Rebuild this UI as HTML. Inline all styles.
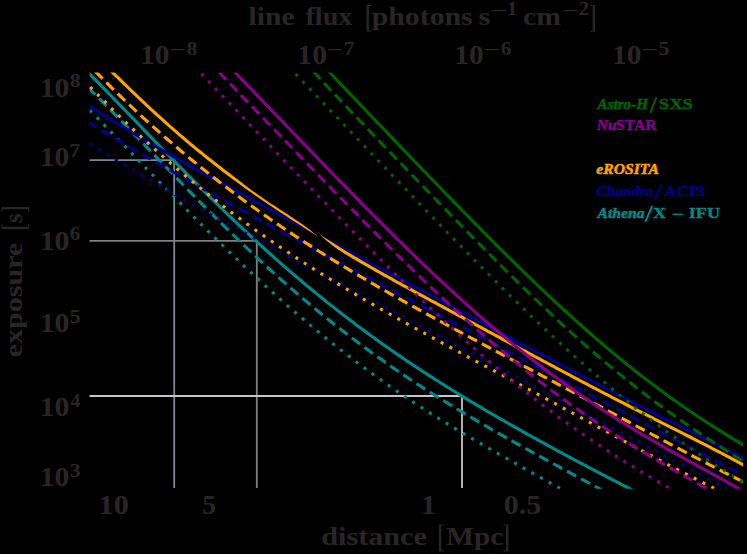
<!DOCTYPE html>
<html><head><meta charset="utf-8"><title>exposure vs distance</title>
<style>
html,body{margin:0;padding:0;background:#000;}
svg{display:block;font-family:"Liberation Serif",serif;font-weight:bold;}
.t{fill:#292526;}
</style></head><body>
<svg width="747" height="554" viewBox="0 0 747 554">
<rect width="747" height="554" fill="#000"/>
<defs><clipPath id="c"><rect x="89.5" y="72.6" width="653.6" height="416.1"/></clipPath></defs>
<g fill="none" stroke-width="1.8">
<path d="M89.5 160.2H174.2V488" stroke="#778899"/>
<path d="M89.5 240.8H256.8V488" stroke="#808080"/>
<path d="M89.5 396H462V488" stroke="#c6c6c6"/>
</g>
<g clip-path="url(#c)" fill="none" stroke-width="3.1">
<path d="M75.7 60.0 L77.7 62.0 L79.7 64.0 L81.7 66.0 L83.7 68.0 L85.7 70.1 L87.7 72.1 L89.7 74.1 L91.7 76.1 L93.7 78.1 L95.7 80.2 L97.7 82.2 L99.7 84.2 L101.7 86.3 L103.7 88.3 L105.7 90.3 L107.7 92.4 L109.7 94.5 L111.7 96.5 L113.7 98.6 L115.7 100.6 L117.7 102.7 L119.7 104.8 L121.7 106.8 L123.7 108.9 L125.7 111.0 L127.7 113.0 L129.7 115.1 L131.7 117.2 L133.7 119.2 L135.7 121.3 L137.7 123.4 L139.7 125.5 L141.7 127.5 L143.7 129.6 L145.7 131.7 L147.7 133.8 L149.7 135.8 L151.7 137.9 L153.7 140.0 L155.7 142.0 L157.7 144.1 L159.7 146.2 L161.7 148.2 L163.7 150.3 L165.7 152.3 L167.7 154.4 L169.7 156.5 L171.7 158.5 L173.7 160.6 L175.7 162.6 L177.7 164.6 L179.7 166.7 L181.7 168.7 L183.7 170.7 L185.7 172.8 L187.7 174.8 L189.7 176.8 L191.7 178.8 L193.7 180.8 L195.7 182.9 L197.7 184.9 L199.7 186.9 L201.7 188.8 L203.7 190.8 L205.7 192.8 L207.7 194.8 L209.7 196.8 L211.7 198.8 L213.7 200.7 L215.7 202.7 L217.7 204.6 L219.7 206.6 L221.7 208.5 L223.7 210.5 L225.7 212.4 L227.7 214.3 L229.7 216.3 L231.7 218.2 L233.7 220.1 L235.7 222.0 L237.7 223.9 L239.7 225.8 L241.7 227.7 L243.7 229.6 L245.7 231.4 L247.7 233.3 L249.7 235.2 L251.7 237.0 L253.7 238.9 L255.7 240.7 L257.7 242.6 L259.7 244.4 L261.7 246.2 L263.7 248.0 L265.7 249.8 L267.7 251.7 L269.7 253.5 L271.7 255.2 L273.7 257.0 L275.7 258.8 L277.7 260.6 L279.7 262.3 L281.7 264.1 L283.7 265.9 L285.7 267.6 L287.7 269.3 L289.7 271.1 L291.7 272.8 L293.7 274.5 L295.7 276.2 L297.7 277.9 L299.7 279.6 L301.7 281.3 L303.7 283.0 L305.7 284.7 L307.7 286.3 L309.7 288.0 L311.7 289.7 L313.7 291.3 L315.7 292.9 L317.7 294.6 L319.7 296.2 L321.7 297.8 L323.7 299.4 L325.7 301.1 L327.7 302.7 L329.7 304.2 L331.7 305.8 L333.7 307.4 L335.7 309.0 L337.7 310.6 L339.7 312.1 L341.7 313.7 L343.7 315.2 L345.7 316.8 L347.7 318.3 L349.7 319.8 L351.7 321.3 L353.7 322.8 L355.7 324.4 L357.7 325.9 L359.7 327.3 L361.7 328.8 L363.7 330.3 L365.7 331.8 L367.7 333.3 L369.7 334.7 L371.7 336.2 L373.7 337.6 L375.7 339.1 L377.7 340.5 L379.7 341.9 L381.7 343.4 L383.7 344.8 L385.7 346.2 L387.7 347.6 L389.7 349.0 L391.7 350.4 L393.7 351.8 L395.7 353.2 L397.7 354.6 L399.7 355.9 L401.7 357.3 L403.7 358.7 L405.7 360.0 L407.7 361.4 L409.7 362.7 L411.7 364.0 L413.7 365.4 L415.7 366.7 L417.7 368.0 L419.7 369.3 L421.7 370.7 L423.7 372.0 L425.7 373.3 L427.7 374.6 L429.7 375.9 L431.7 377.2 L433.7 378.4 L435.7 379.7 L437.7 381.0 L439.7 382.3 L441.7 383.5 L443.7 384.8 L445.7 386.0 L447.7 387.3 L449.7 388.5 L451.7 389.8 L453.7 391.0 L455.7 392.3 L457.7 393.5 L459.7 394.7 L461.7 395.9 L463.7 397.1 L465.7 398.4 L467.7 399.6 L469.7 400.8 L471.7 402.0 L473.7 403.2 L475.7 404.4 L477.7 405.6 L479.7 406.7 L481.7 407.9 L483.7 409.1 L485.7 410.3 L487.7 411.5 L489.7 412.6 L491.7 413.8 L493.7 415.0 L495.7 416.1 L497.7 417.3 L499.7 418.4 L501.7 419.6 L503.7 420.7 L505.7 421.9 L507.7 423.0 L509.7 424.2 L511.7 425.3 L513.7 426.4 L515.7 427.6 L517.7 428.7 L519.7 429.8 L521.7 430.9 L523.7 432.1 L525.7 433.2 L527.7 434.3 L529.7 435.4 L531.7 436.5 L533.7 437.6 L535.7 438.7 L537.7 439.8 L539.7 440.9 L541.7 442.0 L543.7 443.1 L545.7 444.2 L547.7 445.3 L549.7 446.4 L551.7 447.5 L553.7 448.6 L555.7 449.7 L557.7 450.8 L559.7 451.8 L561.7 452.9 L563.7 454.0 L565.7 455.1 L567.7 456.1 L569.7 457.2 L571.7 458.3 L573.7 459.4 L575.7 460.4 L577.7 461.5 L579.7 462.6 L581.7 463.6 L583.7 464.7 L585.7 465.7 L587.7 466.8 L589.7 467.8 L591.7 468.9 L593.7 470.0 L595.7 471.0 L597.7 472.1 L599.7 473.1 L601.7 474.2 L603.7 475.2 L605.7 476.2 L607.7 477.3 L609.7 478.3 L611.7 479.4 L613.7 480.4 L615.7 481.4 L617.7 482.5 L619.7 483.5 L621.7 484.5 L623.7 485.6 L625.7 486.6 L627.7 487.6 L629.7 488.6 L631.7 489.7 L633.7 490.7 L635.7 491.7 L637.7 492.8 L639.7 493.8 L641.7 494.8" stroke="#008b8b"/>
<path d="M76.8 76.6 L78.8 78.6 L80.8 80.5 L82.8 82.5 L84.8 84.4 L86.8 86.4 L88.8 88.3 L90.8 90.3 L92.8 92.3 L94.8 94.2 L96.8 96.2 L98.8 98.2 L100.8 100.2 L102.8 102.2 L104.8 104.2 L106.8 106.2 L108.8 108.2 L110.8 110.2 L112.8 112.2 L114.8 114.3 L116.8 116.3 L118.8 118.3 L120.8 120.4 L122.8 122.4 L124.8 124.5 L126.8 126.5 L128.8 128.6 L130.8 130.6 L132.8 132.7 L134.8 134.8 L136.8 136.8 L138.8 138.9 L140.8 141.0 L142.8 143.1 L144.8 145.1 L146.8 147.2 L148.8 149.3 L150.8 151.4 L152.8 153.4 L154.8 155.5 L156.8 157.6 L158.8 159.7 L160.8 161.7 L162.8 163.8 L164.8 165.9 L166.8 167.9 L168.8 170.0 L170.8 172.1 L172.8 174.1 L174.8 176.2 L176.8 178.3 L178.8 180.3 L180.8 182.4 L182.8 184.5 L184.8 186.5 L186.8 188.6 L188.8 190.6 L190.8 192.6 L192.8 194.7 L194.8 196.7 L196.8 198.8 L198.8 200.8 L200.8 202.8 L202.8 204.8 L204.8 206.8 L206.8 208.9 L208.8 210.9 L210.8 212.9 L212.8 214.9 L214.8 216.9 L216.8 218.8 L218.8 220.8 L220.8 222.8 L222.8 224.8 L224.8 226.7 L226.8 228.7 L228.8 230.7 L230.8 232.6 L232.8 234.6 L234.8 236.5 L236.8 238.4 L238.8 240.4 L240.8 242.3 L242.8 244.2 L244.8 246.1 L246.8 248.0 L248.8 249.9 L250.8 251.8 L252.8 253.7 L254.8 255.6 L256.8 257.4 L258.8 259.3 L260.8 261.1 L262.8 263.0 L264.8 264.8 L266.8 266.7 L268.8 268.5 L270.8 270.3 L272.8 272.1 L274.8 273.9 L276.8 275.7 L278.8 277.5 L280.8 279.3 L282.8 281.1 L284.8 282.9 L286.8 284.6 L288.8 286.4 L290.8 288.1 L292.8 289.9 L294.8 291.6 L296.8 293.3 L298.8 295.0 L300.8 296.8 L302.8 298.5 L304.8 300.2 L306.8 301.8 L308.8 303.5 L310.8 305.2 L312.8 306.9 L314.8 308.5 L316.8 310.2 L318.8 311.8 L320.8 313.5 L322.8 315.1 L324.8 316.7 L326.8 318.3 L328.8 319.9 L330.8 321.5 L332.8 323.1 L334.8 324.7 L336.8 326.3 L338.8 327.8 L340.8 329.4 L342.8 331.0 L344.8 332.5 L346.8 334.0 L348.8 335.6 L350.8 337.1 L352.8 338.6 L354.8 340.1 L356.8 341.6 L358.8 343.1 L360.8 344.6 L362.8 346.1 L364.8 347.6 L366.8 349.1 L368.8 350.5 L370.8 352.0 L372.8 353.4 L374.8 354.9 L376.8 356.3 L378.8 357.7 L380.8 359.1 L382.8 360.6 L384.8 362.0 L386.8 363.4 L388.8 364.8 L390.8 366.2 L392.8 367.5 L394.8 368.9 L396.8 370.3 L398.8 371.6 L400.8 373.0 L402.8 374.4 L404.8 375.7 L406.8 377.0 L408.8 378.4 L410.8 379.7 L412.8 381.0 L414.8 382.3 L416.8 383.7 L418.8 385.0 L420.8 386.3 L422.8 387.6 L424.8 388.8 L426.8 390.1 L428.8 391.4 L430.8 392.7 L432.8 394.0 L434.8 395.2 L436.8 396.5 L438.8 397.7 L440.8 399.0 L442.8 400.2 L444.8 401.5 L446.8 402.7 L448.8 403.9 L450.8 405.2 L452.8 406.4 L454.8 407.6 L456.8 408.8 L458.8 410.0 L460.8 411.2 L462.8 412.4 L464.8 413.6 L466.8 414.8 L468.8 416.0 L470.8 417.2 L472.8 418.4 L474.8 419.5 L476.8 420.7 L478.8 421.9 L480.8 423.1 L482.8 424.2 L484.8 425.4 L486.8 426.5 L488.8 427.7 L490.8 428.8 L492.8 430.0 L494.8 431.1 L496.8 432.3 L498.8 433.4 L500.8 434.6 L502.8 435.7 L504.8 436.8 L506.8 438.0 L508.8 439.1 L510.8 440.2 L512.8 441.3 L514.8 442.5 L516.8 443.6 L518.8 444.7 L520.8 445.8 L522.8 446.9 L524.8 448.0 L526.8 449.1 L528.8 450.2 L530.8 451.4 L532.8 452.5 L534.8 453.6 L536.8 454.7 L538.8 455.8 L540.8 456.9 L542.8 458.0 L544.8 459.1 L546.8 460.2 L548.8 461.2 L550.8 462.3 L552.8 463.4 L554.8 464.5 L556.8 465.6 L558.8 466.7 L560.8 467.8 L562.8 468.9 L564.8 470.0 L566.8 471.1 L568.8 472.1 L570.8 473.2 L572.8 474.3 L574.8 475.4 L576.8 476.5 L578.8 477.6 L580.8 478.7 L582.8 479.7 L584.8 480.8 L586.8 481.9 L588.8 483.0 L590.8 484.1 L592.8 485.2 L594.8 486.3 L596.8 487.3 L598.8 488.4 L600.8 489.5 L602.8 490.6 L604.8 491.7 L606.8 492.8 L608.8 493.8 L610.8 494.9" stroke="#008b8b" stroke-dasharray="10.30 5.54" stroke-dashoffset="0.41"/>
<path d="M76.8 97.1 L78.8 99.2 L80.8 101.2 L82.8 103.2 L84.8 105.3 L86.8 107.3 L88.8 109.3 L90.8 111.3 L92.8 113.4 L94.8 115.4 L96.8 117.4 L98.8 119.5 L100.8 121.5 L102.8 123.6 L104.8 125.6 L106.8 127.6 L108.8 129.7 L110.8 131.7 L112.8 133.8 L114.8 135.9 L116.8 137.9 L118.8 140.0 L120.8 142.0 L122.8 144.1 L124.8 146.2 L126.8 148.2 L128.8 150.3 L130.8 152.3 L132.8 154.4 L134.8 156.5 L136.8 158.5 L138.8 160.6 L140.8 162.7 L142.8 164.7 L144.8 166.8 L146.8 168.9 L148.8 170.9 L150.8 173.0 L152.8 175.0 L154.8 177.1 L156.8 179.1 L158.8 181.2 L160.8 183.3 L162.8 185.3 L164.8 187.4 L166.8 189.4 L168.8 191.5 L170.8 193.5 L172.8 195.5 L174.8 197.6 L176.8 199.6 L178.8 201.7 L180.8 203.7 L182.8 205.7 L184.8 207.7 L186.8 209.8 L188.8 211.8 L190.8 213.8 L192.8 215.8 L194.8 217.8 L196.8 219.8 L198.8 221.8 L200.8 223.8 L202.8 225.8 L204.8 227.8 L206.8 229.8 L208.8 231.8 L210.8 233.8 L212.8 235.7 L214.8 237.7 L216.8 239.7 L218.8 241.6 L220.8 243.6 L222.8 245.5 L224.8 247.5 L226.8 249.4 L228.8 251.4 L230.8 253.3 L232.8 255.2 L234.8 257.1 L236.8 259.0 L238.8 261.0 L240.8 262.9 L242.8 264.8 L244.8 266.7 L246.8 268.5 L248.8 270.4 L250.8 272.3 L252.8 274.2 L254.8 276.0 L256.8 277.9 L258.8 279.7 L260.8 281.6 L262.8 283.4 L264.8 285.3 L266.8 287.1 L268.8 288.9 L270.8 290.7 L272.8 292.5 L274.8 294.3 L276.8 296.1 L278.8 297.9 L280.8 299.7 L282.8 301.5 L284.8 303.2 L286.8 305.0 L288.8 306.8 L290.8 308.5 L292.8 310.2 L294.8 312.0 L296.8 313.7 L298.8 315.4 L300.8 317.1 L302.8 318.8 L304.8 320.5 L306.8 322.2 L308.8 323.9 L310.8 325.6 L312.8 327.3 L314.8 328.9 L316.8 330.6 L318.8 332.2 L320.8 333.9 L322.8 335.5 L324.8 337.1 L326.8 338.8 L328.8 340.4 L330.8 342.0 L332.8 343.6 L334.8 345.2 L336.8 346.8 L338.8 348.3 L340.8 349.9 L342.8 351.5 L344.8 353.0 L346.8 354.6 L348.8 356.1 L350.8 357.7 L352.8 359.2 L354.8 360.7 L356.8 362.2 L358.8 363.7 L360.8 365.2 L362.8 366.7 L364.8 368.2 L366.8 369.7 L368.8 371.1 L370.8 372.6 L372.8 374.1 L374.8 375.5 L376.8 377.0 L378.8 378.4 L380.8 379.8 L382.8 381.2 L384.8 382.7 L386.8 384.1 L388.8 385.5 L390.8 386.9 L392.8 388.3 L394.8 389.6 L396.8 391.0 L398.8 392.4 L400.8 393.7 L402.8 395.1 L404.8 396.4 L406.8 397.8 L408.8 399.1 L410.8 400.5 L412.8 401.8 L414.8 403.1 L416.8 404.4 L418.8 405.7 L420.8 407.0 L422.8 408.3 L424.8 409.6 L426.8 410.9 L428.8 412.2 L430.8 413.4 L432.8 414.7 L434.8 416.0 L436.8 417.2 L438.8 418.5 L440.8 419.7 L442.8 421.0 L444.8 422.2 L446.8 423.4 L448.8 424.6 L450.8 425.9 L452.8 427.1 L454.8 428.3 L456.8 429.5 L458.8 430.7 L460.8 431.9 L462.8 433.1 L464.8 434.3 L466.8 435.5 L468.8 436.7 L470.8 437.8 L472.8 439.0 L474.8 440.2 L476.8 441.4 L478.8 442.5 L480.8 443.7 L482.8 444.8 L484.8 446.0 L486.8 447.1 L488.8 448.3 L490.8 449.4 L492.8 450.6 L494.8 451.7 L496.8 452.9 L498.8 454.0 L500.8 455.1 L502.8 456.3 L504.8 457.4 L506.8 458.5 L508.8 459.7 L510.8 460.8 L512.8 461.9 L514.8 463.0 L516.8 464.2 L518.8 465.3 L520.8 466.4 L522.8 467.5 L524.8 468.7 L526.8 469.8 L528.8 470.9 L530.8 472.0 L532.8 473.1 L534.8 474.3 L536.8 475.4 L538.8 476.5 L540.8 477.6 L542.8 478.8 L544.8 479.9 L546.8 481.0 L548.8 482.2 L550.8 483.3 L552.8 484.4 L554.8 485.6 L556.8 486.7 L558.8 487.8 L560.8 489.0 L562.8 490.1 L564.8 491.3 L566.8 492.4 L568.8 493.5 L570.8 494.7" stroke="#008b8b" stroke-dasharray="3.00 6.90" stroke-dashoffset="1.30"/>
<path d="M75.7 97.1 L77.7 98.4 L79.7 99.7 L81.7 101.0 L83.7 102.3 L85.7 103.6 L87.7 104.8 L89.7 106.1 L91.7 107.4 L93.7 108.7 L95.7 110.0 L97.7 111.3 L99.7 112.5 L101.7 113.8 L103.7 115.1 L105.7 116.3 L107.7 117.6 L109.7 118.8 L111.7 120.0 L113.7 121.3 L115.7 122.5 L117.7 123.7 L119.7 125.0 L121.7 126.2 L123.7 127.4 L125.7 128.6 L127.7 129.8 L129.7 131.0 L131.7 132.2 L133.7 133.4 L135.7 134.6 L137.7 135.8 L139.7 137.0 L141.7 138.1 L143.7 139.3 L145.7 140.5 L147.7 141.7 L149.7 142.8 L151.7 144.0 L153.7 145.2 L155.7 146.3 L157.7 147.5 L159.7 148.6 L161.7 149.8 L163.7 150.9 L165.7 152.1 L167.7 153.2 L169.7 154.3 L171.7 155.5 L173.7 156.6 L175.7 157.7 L177.7 158.9 L179.7 160.0 L181.7 161.1 L183.7 162.3 L185.7 163.4 L187.7 164.5 L189.7 165.6 L191.7 166.7 L193.7 167.8 L195.7 169.0 L197.7 170.1 L199.7 171.2 L201.7 172.3 L203.7 173.4 L205.7 174.5 L207.7 175.6 L209.7 176.7 L211.7 177.8 L213.7 178.9 L215.7 180.0 L217.7 181.1 L219.7 182.2 L221.7 183.3 L223.7 184.4 L225.7 185.4 L227.7 186.5 L229.7 187.6 L231.7 188.7 L233.7 189.8 L235.7 190.9 L237.7 192.0 L239.7 193.0 L241.7 194.1 L243.7 195.2 L245.7 196.3 L247.7 197.4 L249.7 198.5 L251.7 199.5 L253.7 200.6 L255.7 201.7 L257.7 202.8 L259.7 203.8 L261.7 204.9 L263.7 206.0 L265.7 207.1 L267.7 208.1 L269.7 209.2 L271.7 210.3 L273.7 211.4 L275.7 212.4 L277.7 213.5 L279.7 214.6 L281.7 215.6 L283.7 216.7 L285.7 217.8 L287.7 218.9 L289.7 219.9 L291.7 221.0 L293.7 222.1 L295.7 223.1 L297.7 224.2 L299.7 225.3 L301.7 226.3 L303.7 227.4 L305.7 228.5 L307.7 229.6 L309.7 230.6 L311.7 231.7 L313.7 232.8 L315.7 233.8 L317.7 234.9 L319.7 236.0 L321.7 237.0 L323.7 238.1 L325.7 239.2 L327.7 240.2 L329.7 241.3 L331.7 242.4 L333.7 243.4 L335.7 244.5 L337.7 245.6 L339.7 246.7 L341.7 247.7 L343.7 248.8 L345.7 249.9 L347.7 250.9 L349.7 252.0 L351.7 253.1 L353.7 254.1 L355.7 255.2 L357.7 256.3 L359.7 257.3 L361.7 258.4 L363.7 259.5 L365.7 260.6 L367.7 261.6 L369.7 262.7 L371.7 263.8 L373.7 264.8 L375.7 265.9 L377.7 267.0 L379.7 268.1 L381.7 269.1 L383.7 270.2 L385.7 271.3 L387.7 272.3 L389.7 273.4 L391.7 274.5 L393.7 275.6 L395.7 276.6 L397.7 277.7 L399.7 278.8 L401.7 279.8 L403.7 280.9 L405.7 282.0 L407.7 283.1 L409.7 284.1 L411.7 285.2 L413.7 286.3 L415.7 287.4 L417.7 288.4 L419.7 289.5 L421.7 290.6 L423.7 291.6 L425.7 292.7 L427.7 293.8 L429.7 294.9 L431.7 295.9 L433.7 297.0 L435.7 298.1 L437.7 299.2 L439.7 300.2 L441.7 301.3 L443.7 302.4 L445.7 303.5 L447.7 304.5 L449.7 305.6 L451.7 306.7 L453.7 307.7 L455.7 308.8 L457.7 309.9 L459.7 311.0 L461.7 312.0 L463.7 313.1 L465.7 314.2 L467.7 315.3 L469.7 316.3 L471.7 317.4 L473.7 318.5 L475.7 319.5 L477.7 320.6 L479.7 321.7 L481.7 322.8 L483.7 323.8 L485.7 324.9 L487.7 326.0 L489.7 327.0 L491.7 328.1 L493.7 329.2 L495.7 330.3 L497.7 331.3 L499.7 332.4 L501.7 333.5 L503.7 334.5 L505.7 335.6 L507.7 336.7 L509.7 337.7 L511.7 338.8 L513.7 339.9 L515.7 340.9 L517.7 342.0 L519.7 343.1 L521.7 344.1 L523.7 345.2 L525.7 346.3 L527.7 347.3 L529.7 348.4 L531.7 349.4 L533.7 350.5 L535.7 351.6 L537.7 352.6 L539.7 353.7 L541.7 354.8 L543.7 355.8 L545.7 356.9 L547.7 357.9 L549.7 359.0 L551.7 360.0 L553.7 361.1 L555.7 362.2 L557.7 363.2 L559.7 364.3 L561.7 365.3 L563.7 366.4 L565.7 367.4 L567.7 368.5 L569.7 369.5 L571.7 370.6 L573.7 371.6 L575.7 372.7 L577.7 373.7 L579.7 374.8 L581.7 375.8 L583.7 376.9 L585.7 377.9 L587.7 379.0 L589.7 380.0 L591.7 381.1 L593.7 382.1 L595.7 383.1 L597.7 384.2 L599.7 385.2 L601.7 386.3 L603.7 387.3 L605.7 388.3 L607.7 389.4 L609.7 390.4 L611.7 391.5 L613.7 392.5 L615.7 393.5 L617.7 394.6 L619.7 395.6 L621.7 396.6 L623.7 397.7 L625.7 398.7 L627.7 399.7 L629.7 400.7 L631.7 401.8 L633.7 402.8 L635.7 403.8 L637.7 404.9 L639.7 405.9 L641.7 406.9 L643.7 407.9 L645.7 408.9 L647.7 410.0 L649.7 411.0 L651.7 412.0 L653.7 413.0 L655.7 414.0 L657.7 415.1 L659.7 416.1 L661.7 417.1 L663.7 418.1 L665.7 419.1 L667.7 420.1 L669.7 421.2 L671.7 422.2 L673.7 423.2 L675.7 424.2 L677.7 425.2 L679.7 426.2 L681.7 427.2 L683.7 428.2 L685.7 429.2 L687.7 430.2 L689.7 431.2 L691.7 432.2 L693.7 433.2 L695.7 434.2 L697.7 435.3 L699.7 436.3 L701.7 437.3 L703.7 438.3 L705.7 439.3 L707.7 440.3 L709.7 441.3 L711.7 442.2 L713.7 443.2 L715.7 444.2 L717.7 445.2 L719.7 446.2 L721.7 447.2 L723.7 448.2 L725.7 449.2 L727.7 450.2 L729.7 451.2 L731.7 452.2 L733.7 453.2 L735.7 454.2 L737.7 455.2 L739.7 456.2 L741.7 457.2 L743.7 458.1 L745.7 459.1 L747.7 460.1 L749.7 461.1 L751.7 462.1 L753.7 463.1 L755.7 464.1" stroke="#00008b"/>
<path d="M76.8 115.0 L78.8 116.2 L80.8 117.4 L82.8 118.7 L84.8 119.9 L86.8 121.1 L88.8 122.4 L90.8 123.6 L92.8 124.8 L94.8 126.0 L96.8 127.3 L98.8 128.5 L100.8 129.7 L102.8 130.9 L104.8 132.1 L106.8 133.3 L108.8 134.5 L110.8 135.7 L112.8 136.9 L114.8 138.1 L116.8 139.3 L118.8 140.5 L120.8 141.7 L122.8 142.9 L124.8 144.1 L126.8 145.3 L128.8 146.5 L130.8 147.6 L132.8 148.8 L134.8 150.0 L136.8 151.2 L138.8 152.3 L140.8 153.5 L142.8 154.7 L144.8 155.8 L146.8 157.0 L148.8 158.1 L150.8 159.3 L152.8 160.4 L154.8 161.6 L156.8 162.7 L158.8 163.9 L160.8 165.0 L162.8 166.2 L164.8 167.3 L166.8 168.5 L168.8 169.6 L170.8 170.7 L172.8 171.9 L174.8 173.0 L176.8 174.1 L178.8 175.3 L180.8 176.4 L182.8 177.5 L184.8 178.6 L186.8 179.8 L188.8 180.9 L190.8 182.0 L192.8 183.1 L194.8 184.2 L196.8 185.4 L198.8 186.5 L200.8 187.6 L202.8 188.7 L204.8 189.8 L206.8 190.9 L208.8 192.0 L210.8 193.1 L212.8 194.2 L214.8 195.3 L216.8 196.4 L218.8 197.5 L220.8 198.6 L222.8 199.7 L224.8 200.8 L226.8 201.9 L228.8 203.0 L230.8 204.1 L232.8 205.2 L234.8 206.3 L236.8 207.4 L238.8 208.5 L240.8 209.6 L242.8 210.6 L244.8 211.7 L246.8 212.8 L248.8 213.9 L250.8 215.0 L252.8 216.1 L254.8 217.1 L256.8 218.2 L258.8 219.3 L260.8 220.4 L262.8 221.5 L264.8 222.5 L266.8 223.6 L268.8 224.7 L270.8 225.8 L272.8 226.8 L274.8 227.9 L276.8 229.0 L278.8 230.1 L280.8 231.1 L282.8 232.2 L284.8 233.3 L286.8 234.3 L288.8 235.4 L290.8 236.5 L292.8 237.6 L294.8 238.6 L296.8 239.7 L298.8 240.8 L300.8 241.8 L302.8 242.9 L304.8 244.0 L306.8 245.0 L308.8 246.1 L310.8 247.1 L312.8 248.2 L314.8 249.3 L316.8 250.3 L318.8 251.4 L320.8 252.5 L322.8 253.5 L324.8 254.6 L326.8 255.6 L328.8 256.7 L330.8 257.8 L332.8 258.8 L334.8 259.9 L336.8 260.9 L338.8 262.0 L340.8 263.1 L342.8 264.1 L344.8 265.2 L346.8 266.2 L348.8 267.3 L350.8 268.3 L352.8 269.4 L354.8 270.5 L356.8 271.5 L358.8 272.6 L360.8 273.6 L362.8 274.7 L364.8 275.7 L366.8 276.8 L368.8 277.8 L370.8 278.9 L372.8 280.0 L374.8 281.0 L376.8 282.1 L378.8 283.1 L380.8 284.2 L382.8 285.2 L384.8 286.3 L386.8 287.3 L388.8 288.4 L390.8 289.5 L392.8 290.5 L394.8 291.6 L396.8 292.6 L398.8 293.7 L400.8 294.7 L402.8 295.8 L404.8 296.8 L406.8 297.9 L408.8 298.9 L410.8 300.0 L412.8 301.0 L414.8 302.1 L416.8 303.2 L418.8 304.2 L420.8 305.3 L422.8 306.3 L424.8 307.4 L426.8 308.4 L428.8 309.5 L430.8 310.5 L432.8 311.6 L434.8 312.6 L436.8 313.7 L438.8 314.7 L440.8 315.8 L442.8 316.9 L444.8 317.9 L446.8 319.0 L448.8 320.0 L450.8 321.1 L452.8 322.1 L454.8 323.2 L456.8 324.2 L458.8 325.3 L460.8 326.3 L462.8 327.4 L464.8 328.5 L466.8 329.5 L468.8 330.6 L470.8 331.6 L472.8 332.7 L474.8 333.7 L476.8 334.8 L478.8 335.8 L480.8 336.9 L482.8 337.9 L484.8 339.0 L486.8 340.1 L488.8 341.1 L490.8 342.2 L492.8 343.2 L494.8 344.3 L496.8 345.3 L498.8 346.4 L500.8 347.4 L502.8 348.5 L504.8 349.6 L506.8 350.6 L508.8 351.7 L510.8 352.7 L512.8 353.8 L514.8 354.8 L516.8 355.9 L518.8 357.0 L520.8 358.0 L522.8 359.1 L524.8 360.1 L526.8 361.2 L528.8 362.2 L530.8 363.3 L532.8 364.4 L534.8 365.4 L536.8 366.5 L538.8 367.5 L540.8 368.6 L542.8 369.6 L544.8 370.7 L546.8 371.8 L548.8 372.8 L550.8 373.9 L552.8 374.9 L554.8 376.0 L556.8 377.0 L558.8 378.1 L560.8 379.2 L562.8 380.2 L564.8 381.3 L566.8 382.3 L568.8 383.4 L570.8 384.4 L572.8 385.5 L574.8 386.6 L576.8 387.6 L578.8 388.7 L580.8 389.7 L582.8 390.8 L584.8 391.9 L586.8 392.9 L588.8 394.0 L590.8 395.0 L592.8 396.1 L594.8 397.1 L596.8 398.2 L598.8 399.3 L600.8 400.3 L602.8 401.4 L604.8 402.4 L606.8 403.5 L608.8 404.6 L610.8 405.6 L612.8 406.7 L614.8 407.7 L616.8 408.8 L618.8 409.8 L620.8 410.9 L622.8 412.0 L624.8 413.0 L626.8 414.1 L628.8 415.1 L630.8 416.2 L632.8 417.2 L634.8 418.3 L636.8 419.4 L638.8 420.4 L640.8 421.5 L642.8 422.5 L644.8 423.6 L646.8 424.6 L648.8 425.7 L650.8 426.7 L652.8 427.8 L654.8 428.9 L656.8 429.9 L658.8 431.0 L660.8 432.0 L662.8 433.1 L664.8 434.1 L666.8 435.2 L668.8 436.2 L670.8 437.3 L672.8 438.4 L674.8 439.4 L676.8 440.5 L678.8 441.5 L680.8 442.6 L682.8 443.6 L684.8 444.7 L686.8 445.7 L688.8 446.8 L690.8 447.8 L692.8 448.9 L694.8 449.9 L696.8 451.0 L698.8 452.0 L700.8 453.1 L702.8 454.1 L704.8 455.2 L706.8 456.2 L708.8 457.3 L710.8 458.3 L712.8 459.4 L714.8 460.4 L716.8 461.5 L718.8 462.5 L720.8 463.6 L722.8 464.6 L724.8 465.7 L726.8 466.7 L728.8 467.8 L730.8 468.8 L732.8 469.9 L734.8 470.9 L736.8 472.0 L738.8 473.0 L740.8 474.1 L742.8 475.1 L744.8 476.1 L746.8 477.2 L748.8 478.2 L750.8 479.3 L752.8 480.3 L754.8 481.4 L756.8 482.4" stroke="#00008b" stroke-dasharray="10.30 5.54" stroke-dashoffset="3.27"/>
<path d="M76.8 135.2 L78.8 136.5 L80.8 137.7 L82.8 139.0 L84.8 140.3 L86.8 141.5 L88.8 142.8 L90.8 144.1 L92.8 145.3 L94.8 146.6 L96.8 147.9 L98.8 149.1 L100.8 150.4 L102.8 151.6 L104.8 152.8 L106.8 154.1 L108.8 155.3 L110.8 156.5 L112.8 157.8 L114.8 159.0 L116.8 160.2 L118.8 161.4 L120.8 162.6 L122.8 163.8 L124.8 165.0 L126.8 166.2 L128.8 167.4 L130.8 168.6 L132.8 169.8 L134.8 171.0 L136.8 172.2 L138.8 173.4 L140.8 174.6 L142.8 175.7 L144.8 176.9 L146.8 178.1 L148.8 179.2 L150.8 180.4 L152.8 181.6 L154.8 182.7 L156.8 183.9 L158.8 185.0 L160.8 186.2 L162.8 187.3 L164.8 188.5 L166.8 189.6 L168.8 190.8 L170.8 191.9 L172.8 193.0 L174.8 194.2 L176.8 195.3 L178.8 196.4 L180.8 197.6 L182.8 198.7 L184.8 199.8 L186.8 200.9 L188.8 202.1 L190.8 203.2 L192.8 204.3 L194.8 205.4 L196.8 206.5 L198.8 207.6 L200.8 208.8 L202.8 209.9 L204.8 211.0 L206.8 212.1 L208.8 213.2 L210.8 214.3 L212.8 215.4 L214.8 216.5 L216.8 217.6 L218.8 218.7 L220.8 219.8 L222.8 220.9 L224.8 222.0 L226.8 223.0 L228.8 224.1 L230.8 225.2 L232.8 226.3 L234.8 227.4 L236.8 228.5 L238.8 229.6 L240.8 230.6 L242.8 231.7 L244.8 232.8 L246.8 233.9 L248.8 235.0 L250.8 236.0 L252.8 237.1 L254.8 238.2 L256.8 239.3 L258.8 240.3 L260.8 241.4 L262.8 242.5 L264.8 243.6 L266.8 244.6 L268.8 245.7 L270.8 246.8 L272.8 247.8 L274.8 248.9 L276.8 250.0 L278.8 251.0 L280.8 252.1 L282.8 253.2 L284.8 254.2 L286.8 255.3 L288.8 256.3 L290.8 257.4 L292.8 258.5 L294.8 259.5 L296.8 260.6 L298.8 261.7 L300.8 262.7 L302.8 263.8 L304.8 264.8 L306.8 265.9 L308.8 267.0 L310.8 268.0 L312.8 269.1 L314.8 270.1 L316.8 271.2 L318.8 272.2 L320.8 273.3 L322.8 274.4 L324.8 275.4 L326.8 276.5 L328.8 277.5 L330.8 278.6 L332.8 279.6 L334.8 280.7 L336.8 281.7 L338.8 282.8 L340.8 283.9 L342.8 284.9 L344.8 286.0 L346.8 287.0 L348.8 288.1 L350.8 289.1 L352.8 290.2 L354.8 291.2 L356.8 292.3 L358.8 293.3 L360.8 294.4 L362.8 295.4 L364.8 296.5 L366.8 297.6 L368.8 298.6 L370.8 299.7 L372.8 300.7 L374.8 301.8 L376.8 302.8 L378.8 303.9 L380.8 304.9 L382.8 306.0 L384.8 307.0 L386.8 308.1 L388.8 309.1 L390.8 310.2 L392.8 311.3 L394.8 312.3 L396.8 313.4 L398.8 314.4 L400.8 315.5 L402.8 316.5 L404.8 317.6 L406.8 318.6 L408.8 319.7 L410.8 320.8 L412.8 321.8 L414.8 322.9 L416.8 323.9 L418.8 325.0 L420.8 326.0 L422.8 327.1 L424.8 328.1 L426.8 329.2 L428.8 330.3 L430.8 331.3 L432.8 332.4 L434.8 333.4 L436.8 334.5 L438.8 335.5 L440.8 336.6 L442.8 337.7 L444.8 338.7 L446.8 339.8 L448.8 340.8 L450.8 341.9 L452.8 342.9 L454.8 344.0 L456.8 345.1 L458.8 346.1 L460.8 347.2 L462.8 348.2 L464.8 349.3 L466.8 350.4 L468.8 351.4 L470.8 352.5 L472.8 353.5 L474.8 354.6 L476.8 355.7 L478.8 356.7 L480.8 357.8 L482.8 358.8 L484.8 359.9 L486.8 361.0 L488.8 362.0 L490.8 363.1 L492.8 364.2 L494.8 365.2 L496.8 366.3 L498.8 367.3 L500.8 368.4 L502.8 369.5 L504.8 370.5 L506.8 371.6 L508.8 372.7 L510.8 373.7 L512.8 374.8 L514.8 375.8 L516.8 376.9 L518.8 378.0 L520.8 379.0 L522.8 380.1 L524.8 381.2 L526.8 382.2 L528.8 383.3 L530.8 384.4 L532.8 385.4 L534.8 386.5 L536.8 387.5 L538.8 388.6 L540.8 389.7 L542.8 390.7 L544.8 391.8 L546.8 392.9 L548.8 393.9 L550.8 395.0 L552.8 396.1 L554.8 397.1 L556.8 398.2 L558.8 399.3 L560.8 400.3 L562.8 401.4 L564.8 402.4 L566.8 403.5 L568.8 404.6 L570.8 405.6 L572.8 406.7 L574.8 407.8 L576.8 408.8 L578.8 409.9 L580.8 411.0 L582.8 412.0 L584.8 413.1 L586.8 414.2 L588.8 415.2 L590.8 416.3 L592.8 417.4 L594.8 418.4 L596.8 419.5 L598.8 420.6 L600.8 421.6 L602.8 422.7 L604.8 423.7 L606.8 424.8 L608.8 425.9 L610.8 426.9 L612.8 428.0 L614.8 429.1 L616.8 430.1 L618.8 431.2 L620.8 432.3 L622.8 433.3 L624.8 434.4 L626.8 435.4 L628.8 436.5 L630.8 437.6 L632.8 438.6 L634.8 439.7 L636.8 440.8 L638.8 441.8 L640.8 442.9 L642.8 443.9 L644.8 445.0 L646.8 446.1 L648.8 447.1 L650.8 448.2 L652.8 449.2 L654.8 450.3 L656.8 451.4 L658.8 452.4 L660.8 453.5 L662.8 454.5 L664.8 455.6 L666.8 456.7 L668.8 457.7 L670.8 458.8 L672.8 459.8 L674.8 460.9 L676.8 462.0 L678.8 463.0 L680.8 464.1 L682.8 465.1 L684.8 466.2 L686.8 467.2 L688.8 468.3 L690.8 469.4 L692.8 470.4 L694.8 471.5 L696.8 472.5 L698.8 473.6 L700.8 474.6 L702.8 475.7 L704.8 476.7 L706.8 477.8 L708.8 478.9 L710.8 479.9 L712.8 481.0 L714.8 482.0 L716.8 483.1 L718.8 484.1 L720.8 485.2 L722.8 486.2 L724.8 487.3 L726.8 488.3 L728.8 489.4 L730.8 490.4 L732.8 491.5 L734.8 492.5 L736.8 493.6 L738.8 494.6" stroke="#00008b" stroke-dasharray="3.00 6.90" stroke-dashoffset="4.23"/>
<path d="M98.5 58.5 L100.5 60.4 L102.5 62.4 L104.5 64.4 L106.5 66.4 L108.5 68.4 L110.5 70.3 L112.5 72.3 L114.5 74.3 L116.5 76.3 L118.5 78.2 L120.5 80.2 L122.5 82.1 L124.5 84.1 L126.5 86.0 L128.5 88.0 L130.5 89.9 L132.5 91.8 L134.5 93.7 L136.5 95.6 L138.5 97.5 L140.5 99.4 L142.5 101.3 L144.5 103.2 L146.5 105.1 L148.5 106.9 L150.5 108.8 L152.5 110.6 L154.5 112.5 L156.5 114.3 L158.5 116.1 L160.5 117.9 L162.5 119.7 L164.5 121.5 L166.5 123.3 L168.5 125.1 L170.5 126.9 L172.5 128.6 L174.5 130.4 L176.5 132.1 L178.5 133.9 L180.5 135.6 L182.5 137.3 L184.5 139.0 L186.5 140.7 L188.5 142.4 L190.5 144.1 L192.5 145.7 L194.5 147.4 L196.5 149.1 L198.5 150.7 L200.5 152.3 L202.5 153.9 L204.5 155.6 L206.5 157.2 L208.5 158.8 L210.5 160.3 L212.5 161.9 L214.5 163.5 L216.5 165.0 L218.5 166.6 L220.5 168.1 L222.5 169.7 L224.5 171.2 L226.5 172.7 L228.5 174.2 L230.5 175.7 L232.5 177.2 L234.5 178.7 L236.5 180.1 L238.5 181.6 L240.5 183.0 L242.5 184.5 L244.5 185.9 L246.5 187.4 L248.5 188.8 L250.5 190.2 L252.5 191.6 L254.5 193.0 L256.5 194.4 L258.5 195.8 L260.5 197.2 L262.5 198.5 L264.5 199.9 L266.5 201.2 L268.5 202.6 L270.5 203.9 L272.5 205.3 L274.5 206.6 L276.5 207.9 L278.5 209.3 L280.5 210.6 L282.5 211.9 L284.5 213.2 L286.5 214.5 L288.5 215.8 L290.5 217.1 L292.5 218.4 L294.5 219.7 L296.5 221.0 L298.5 222.3 L300.5 223.5 L302.5 224.8 L304.5 226.1 L306.5 227.4 L308.5 228.6 L310.5 229.9 L312.5 231.2 L314.5 232.4 L316.5 233.7 L318.0 234.0 L320.0 236.4 L322.0 237.7 L324.0 239.0 L326.0 240.3 L328.0 241.6 L330.0 242.9 L332.0 244.1 L334.0 245.4 L336.0 246.6 L338.0 247.9 L340.0 249.1 L342.0 250.3 L344.0 251.6 L346.0 252.8 L348.0 254.0 L350.0 255.2 L352.0 256.4 L354.0 257.6 L356.0 258.7 L358.0 259.9 L360.0 261.1 L362.0 262.3 L364.0 263.4 L366.0 264.6 L368.0 265.7 L370.0 266.9 L372.0 268.0 L374.0 269.1 L376.0 270.3 L378.0 271.4 L380.0 272.5 L382.0 273.7 L384.0 274.8 L386.0 275.9 L388.0 277.0 L390.0 278.1 L392.0 279.2 L394.0 280.3 L396.0 281.5 L398.0 282.6 L400.0 283.7 L402.0 284.8 L404.0 285.9 L406.0 286.9 L408.0 288.0 L410.0 289.1 L412.0 290.2 L414.0 291.3 L416.0 292.4 L418.0 293.5 L420.0 294.6 L422.0 295.7 L424.0 296.7 L426.0 297.8 L428.0 298.9 L430.0 300.0 L432.0 301.1 L434.0 302.2 L436.0 303.2 L438.0 304.3 L440.0 305.4 L442.0 306.5 L444.0 307.5 L446.0 308.6 L448.0 309.7 L450.0 310.8 L452.0 311.9 L454.0 312.9 L456.0 314.0 L458.0 315.1 L460.0 316.2 L462.0 317.2 L464.0 318.3 L466.0 319.4 L468.0 320.5 L470.0 321.6 L472.0 322.6 L474.0 323.7 L476.0 324.8 L478.0 325.9 L480.0 326.9 L482.0 328.0 L484.0 329.1 L486.0 330.2 L488.0 331.3 L490.0 332.3 L492.0 333.4 L494.0 334.5 L496.0 335.6 L498.0 336.6 L500.0 337.7 L502.0 338.8 L504.0 339.9 L506.0 341.0 L508.0 342.0 L510.0 343.1 L512.0 344.2 L514.0 345.3 L516.0 346.3 L518.0 347.4 L520.0 348.5 L522.0 349.6 L524.0 350.6 L526.0 351.7 L528.0 352.8 L530.0 353.9 L532.0 354.9 L534.0 356.0 L536.0 357.1 L538.0 358.2 L540.0 359.2 L542.0 360.3 L544.0 361.4 L546.0 362.4 L548.0 363.5 L550.0 364.6 L552.0 365.7 L554.0 366.7 L556.0 367.8 L558.0 368.9 L560.0 369.9 L562.0 371.0 L564.0 372.0 L566.0 373.1 L568.0 374.2 L570.0 375.2 L572.0 376.3 L574.0 377.4 L576.0 378.4 L578.0 379.5 L580.0 380.5 L582.0 381.6 L584.0 382.6 L586.0 383.7 L588.0 384.7 L590.0 385.8 L592.0 386.8 L594.0 387.9 L596.0 388.9 L598.0 390.0 L600.0 391.0 L602.0 392.1 L604.0 393.1 L606.0 394.1 L608.0 395.2 L610.0 396.2 L612.0 397.3 L614.0 398.3 L616.0 399.3 L618.0 400.4 L620.0 401.4 L622.0 402.4 L624.0 403.4 L626.0 404.5 L628.0 405.5 L630.0 406.5 L632.0 407.6 L634.0 408.6 L636.0 409.6 L638.0 410.6 L640.0 411.6 L642.0 412.7 L644.0 413.7 L646.0 414.7 L648.0 415.7 L650.0 416.7 L652.0 417.7 L654.0 418.8 L656.0 419.8 L658.0 420.8 L660.0 421.8 L662.0 422.8 L664.0 423.8 L666.0 424.8 L668.0 425.9 L670.0 426.9 L672.0 427.9 L674.0 428.9 L676.0 429.9 L678.0 430.9 L680.0 431.9 L682.0 432.9 L684.0 434.0 L686.0 435.0 L688.0 436.0 L690.0 437.0 L692.0 438.0 L694.0 439.0 L696.0 440.1 L698.0 441.1 L700.0 442.1 L702.0 443.1 L704.0 444.1 L706.0 445.2 L708.0 446.2 L710.0 447.2 L712.0 448.3 L714.0 449.3 L716.0 450.4 L718.0 451.4 L720.0 452.4 L722.0 453.5 L724.0 454.5 L726.0 455.6 L728.0 456.7 L730.0 457.7 L732.0 458.8 L734.0 459.9 L736.0 461.0 L738.0 462.0 L740.0 463.1 L742.0 464.2 L744.0 465.3 L746.0 466.4 L748.0 467.5 L750.0 468.6 L752.0 469.7 L754.0 470.8 L756.0 471.9" stroke="#ffa500"/>
<path d="M83.3 59.2 L85.3 61.2 L87.3 63.3 L89.3 65.3 L91.3 67.3 L93.3 69.3 L95.3 71.4 L97.3 73.4 L99.3 75.4 L101.3 77.4 L103.3 79.4 L105.3 81.4 L107.3 83.4 L109.3 85.4 L111.3 87.4 L113.3 89.3 L115.3 91.3 L117.3 93.2 L119.3 95.2 L121.3 97.1 L123.3 99.0 L125.3 100.9 L127.3 102.8 L129.3 104.7 L131.3 106.6 L133.3 108.5 L135.3 110.4 L137.3 112.2 L139.3 114.1 L141.3 115.9 L143.3 117.8 L145.3 119.6 L147.3 121.4 L149.3 123.2 L151.3 125.0 L153.3 126.8 L155.3 128.6 L157.3 130.4 L159.3 132.2 L161.3 134.0 L163.3 135.7 L165.3 137.5 L167.3 139.2 L169.3 140.9 L171.3 142.7 L173.3 144.4 L175.3 146.1 L177.3 147.8 L179.3 149.5 L181.3 151.2 L183.3 152.9 L185.3 154.6 L187.3 156.2 L189.3 157.9 L191.3 159.5 L193.3 161.2 L195.3 162.8 L197.3 164.4 L199.3 166.1 L201.3 167.7 L203.3 169.3 L205.3 170.9 L207.3 172.5 L209.3 174.1 L211.3 175.6 L213.3 177.2 L215.3 178.8 L217.3 180.3 L219.3 181.9 L221.3 183.4 L223.3 185.0 L225.3 186.5 L227.3 188.0 L229.3 189.5 L231.3 191.0 L233.3 192.5 L235.3 194.0 L237.3 195.5 L239.3 197.0 L241.3 198.5 L243.3 199.9 L245.3 201.4 L247.3 202.9 L249.3 204.3 L251.3 205.8 L253.3 207.2 L255.3 208.6 L257.3 210.1 L259.3 211.5 L261.3 212.9 L263.3 214.3 L265.3 215.7 L267.3 217.1 L269.3 218.5 L271.3 219.9 L273.3 221.2 L275.3 222.6 L277.3 224.0 L279.3 225.3 L281.3 226.7 L283.3 228.0 L285.3 229.4 L287.3 230.7 L289.3 232.1 L291.3 233.4 L293.3 234.7 L295.3 236.0 L297.3 237.4 L299.3 238.7 L301.3 240.0 L303.3 241.3 L305.3 242.6 L307.3 243.8 L309.3 245.1 L311.3 246.4 L313.3 247.7 L315.3 249.0 L317.3 250.2 L319.3 251.5 L321.3 252.7 L323.3 254.0 L325.3 255.2 L327.3 256.5 L329.3 257.7 L331.3 258.9 L333.3 260.2 L335.3 261.4 L337.3 262.6 L339.3 263.8 L341.3 265.1 L343.3 266.3 L345.3 267.5 L347.3 268.7 L349.3 269.9 L351.3 271.1 L353.3 272.3 L355.3 273.5 L357.3 274.6 L359.3 275.8 L361.3 277.0 L363.3 278.2 L365.3 279.3 L367.3 280.5 L369.3 281.7 L371.3 282.8 L373.3 284.0 L375.3 285.2 L377.3 286.3 L379.3 287.5 L381.3 288.6 L383.3 289.8 L385.3 290.9 L387.3 292.0 L389.3 293.2 L391.3 294.3 L393.3 295.4 L395.3 296.6 L397.3 297.7 L399.3 298.8 L401.3 299.9 L403.3 301.1 L405.3 302.2 L407.3 303.3 L409.3 304.4 L411.3 305.5 L413.3 306.6 L415.3 307.7 L417.3 308.8 L419.3 309.9 L421.3 311.0 L423.3 312.1 L425.3 313.2 L427.3 314.3 L429.3 315.4 L431.3 316.5 L433.3 317.6 L435.3 318.7 L437.3 319.8 L439.3 320.9 L441.3 321.9 L443.3 323.0 L445.3 324.1 L447.3 325.2 L449.3 326.3 L451.3 327.4 L453.3 328.4 L455.3 329.5 L457.3 330.6 L459.3 331.7 L461.3 332.7 L463.3 333.8 L465.3 334.9 L467.3 335.9 L469.3 337.0 L471.3 338.1 L473.3 339.2 L475.3 340.2 L477.3 341.3 L479.3 342.4 L481.3 343.4 L483.3 344.5 L485.3 345.5 L487.3 346.6 L489.3 347.7 L491.3 348.7 L493.3 349.8 L495.3 350.9 L497.3 351.9 L499.3 353.0 L501.3 354.0 L503.3 355.1 L505.3 356.2 L507.3 357.2 L509.3 358.3 L511.3 359.4 L513.3 360.4 L515.3 361.5 L517.3 362.5 L519.3 363.6 L521.3 364.7 L523.3 365.7 L525.3 366.8 L527.3 367.8 L529.3 368.9 L531.3 370.0 L533.3 371.0 L535.3 372.1 L537.3 373.1 L539.3 374.2 L541.3 375.3 L543.3 376.3 L545.3 377.4 L547.3 378.4 L549.3 379.5 L551.3 380.6 L553.3 381.6 L555.3 382.7 L557.3 383.8 L559.3 384.8 L561.3 385.9 L563.3 386.9 L565.3 388.0 L567.3 389.1 L569.3 390.1 L571.3 391.2 L573.3 392.3 L575.3 393.3 L577.3 394.4 L579.3 395.5 L581.3 396.5 L583.3 397.6 L585.3 398.7 L587.3 399.7 L589.3 400.8 L591.3 401.9 L593.3 402.9 L595.3 404.0 L597.3 405.1 L599.3 406.1 L601.3 407.2 L603.3 408.3 L605.3 409.4 L607.3 410.4 L609.3 411.5 L611.3 412.6 L613.3 413.6 L615.3 414.7 L617.3 415.8 L619.3 416.8 L621.3 417.9 L623.3 419.0 L625.3 420.1 L627.3 421.1 L629.3 422.2 L631.3 423.3 L633.3 424.4 L635.3 425.4 L637.3 426.5 L639.3 427.6 L641.3 428.6 L643.3 429.7 L645.3 430.8 L647.3 431.8 L649.3 432.9 L651.3 434.0 L653.3 435.1 L655.3 436.1 L657.3 437.2 L659.3 438.3 L661.3 439.3 L663.3 440.4 L665.3 441.5 L667.3 442.5 L669.3 443.6 L671.3 444.7 L673.3 445.7 L675.3 446.8 L677.3 447.8 L679.3 448.9 L681.3 450.0 L683.3 451.0 L685.3 452.1 L687.3 453.1 L689.3 454.2 L691.3 455.2 L693.3 456.3 L695.3 457.3 L697.3 458.4 L699.3 459.4 L701.3 460.5 L703.3 461.5 L705.3 462.6 L707.3 463.6 L709.3 464.7 L711.3 465.7 L713.3 466.7 L715.3 467.8 L717.3 468.8 L719.3 469.8 L721.3 470.8 L723.3 471.9 L725.3 472.9 L727.3 473.9 L729.3 474.9 L731.3 475.9 L733.3 476.9 L735.3 477.9 L737.3 478.9 L739.3 479.9 L741.3 480.9 L743.3 482.0 L745.3 483.0 L747.3 484.0 L749.3 485.0 L751.3 486.0" stroke="#ffa500" stroke-dasharray="10.30 5.54" stroke-dashoffset="14.67"/>
<path d="M76.8 73.2 L78.8 75.2 L80.8 77.3 L82.8 79.4 L84.8 81.4 L86.8 83.5 L88.8 85.5 L90.8 87.6 L92.8 89.6 L94.8 91.7 L96.8 93.7 L98.8 95.7 L100.8 97.7 L102.8 99.7 L104.8 101.7 L106.8 103.7 L108.8 105.7 L110.8 107.7 L112.8 109.7 L114.8 111.6 L116.8 113.6 L118.8 115.6 L120.8 117.5 L122.8 119.4 L124.8 121.3 L126.8 123.3 L128.8 125.2 L130.8 127.1 L132.8 129.0 L134.8 130.8 L136.8 132.7 L138.8 134.6 L140.8 136.4 L142.8 138.3 L144.8 140.1 L146.8 142.0 L148.8 143.8 L150.8 145.6 L152.8 147.4 L154.8 149.2 L156.8 151.0 L158.8 152.8 L160.8 154.6 L162.8 156.3 L164.8 158.1 L166.8 159.9 L168.8 161.6 L170.8 163.3 L172.8 165.1 L174.8 166.8 L176.8 168.5 L178.8 170.2 L180.8 171.9 L182.8 173.6 L184.8 175.3 L186.8 176.9 L188.8 178.6 L190.8 180.3 L192.8 181.9 L194.8 183.6 L196.8 185.2 L198.8 186.8 L200.8 188.4 L202.8 190.1 L204.8 191.7 L206.8 193.3 L208.8 194.8 L210.8 196.4 L212.8 198.0 L214.8 199.6 L216.8 201.1 L218.8 202.7 L220.8 204.2 L222.8 205.8 L224.8 207.3 L226.8 208.8 L228.8 210.3 L230.8 211.9 L232.8 213.4 L234.8 214.9 L236.8 216.3 L238.8 217.8 L240.8 219.3 L242.8 220.8 L244.8 222.2 L246.8 223.7 L248.8 225.1 L250.8 226.6 L252.8 228.0 L254.8 229.5 L256.8 230.9 L258.8 232.3 L260.8 233.7 L262.8 235.1 L264.8 236.5 L266.8 237.9 L268.8 239.3 L270.8 240.7 L272.8 242.0 L274.8 243.4 L276.8 244.8 L278.8 246.1 L280.8 247.5 L282.8 248.8 L284.8 250.2 L286.8 251.5 L288.8 252.8 L290.8 254.1 L292.8 255.5 L294.8 256.8 L296.8 258.1 L298.8 259.4 L300.8 260.7 L302.8 262.0 L304.8 263.3 L306.8 264.5 L308.8 265.8 L310.8 267.1 L312.8 268.4 L314.8 269.6 L316.8 270.9 L318.8 272.1 L320.8 273.4 L322.8 274.6 L324.8 275.9 L326.8 277.1 L328.8 278.3 L330.8 279.5 L332.8 280.8 L334.8 282.0 L336.8 283.2 L338.8 284.4 L340.8 285.6 L342.8 286.8 L344.8 288.0 L346.8 289.2 L348.8 290.4 L350.8 291.6 L352.8 292.8 L354.8 293.9 L356.8 295.1 L358.8 296.3 L360.8 297.5 L362.8 298.6 L364.8 299.8 L366.8 300.9 L368.8 302.1 L370.8 303.3 L372.8 304.4 L374.8 305.6 L376.8 306.7 L378.8 307.8 L380.8 309.0 L382.8 310.1 L384.8 311.3 L386.8 312.4 L388.8 313.5 L390.8 314.6 L392.8 315.8 L394.8 316.9 L396.8 318.0 L398.8 319.1 L400.8 320.2 L402.8 321.4 L404.8 322.5 L406.8 323.6 L408.8 324.7 L410.8 325.8 L412.8 326.9 L414.8 328.0 L416.8 329.1 L418.8 330.2 L420.8 331.3 L422.8 332.4 L424.8 333.5 L426.8 334.6 L428.8 335.7 L430.8 336.8 L432.8 337.8 L434.8 338.9 L436.8 340.0 L438.8 341.1 L440.8 342.2 L442.8 343.3 L444.8 344.3 L446.8 345.4 L448.8 346.5 L450.8 347.6 L452.8 348.7 L454.8 349.7 L456.8 350.8 L458.8 351.9 L460.8 353.0 L462.8 354.1 L464.8 355.1 L466.8 356.2 L468.8 357.3 L470.8 358.3 L472.8 359.4 L474.8 360.5 L476.8 361.6 L478.8 362.6 L480.8 363.7 L482.8 364.8 L484.8 365.9 L486.8 366.9 L488.8 368.0 L490.8 369.1 L492.8 370.1 L494.8 371.2 L496.8 372.3 L498.8 373.4 L500.8 374.4 L502.8 375.5 L504.8 376.6 L506.8 377.6 L508.8 378.7 L510.8 379.8 L512.8 380.9 L514.8 381.9 L516.8 383.0 L518.8 384.1 L520.8 385.1 L522.8 386.2 L524.8 387.3 L526.8 388.4 L528.8 389.4 L530.8 390.5 L532.8 391.6 L534.8 392.7 L536.8 393.7 L538.8 394.8 L540.8 395.9 L542.8 397.0 L544.8 398.1 L546.8 399.1 L548.8 400.2 L550.8 401.3 L552.8 402.4 L554.8 403.5 L556.8 404.5 L558.8 405.6 L560.8 406.7 L562.8 407.8 L564.8 408.9 L566.8 409.9 L568.8 411.0 L570.8 412.1 L572.8 413.2 L574.8 414.3 L576.8 415.4 L578.8 416.4 L580.8 417.5 L582.8 418.6 L584.8 419.7 L586.8 420.8 L588.8 421.9 L590.8 423.0 L592.8 424.0 L594.8 425.1 L596.8 426.2 L598.8 427.3 L600.8 428.4 L602.8 429.5 L604.8 430.6 L606.8 431.7 L608.8 432.7 L610.8 433.8 L612.8 434.9 L614.8 436.0 L616.8 437.1 L618.8 438.2 L620.8 439.3 L622.8 440.3 L624.8 441.4 L626.8 442.5 L628.8 443.6 L630.8 444.7 L632.8 445.8 L634.8 446.8 L636.8 447.9 L638.8 449.0 L640.8 450.1 L642.8 451.1 L644.8 452.2 L646.8 453.3 L648.8 454.4 L650.8 455.4 L652.8 456.5 L654.8 457.6 L656.8 458.6 L658.8 459.7 L660.8 460.8 L662.8 461.8 L664.8 462.9 L666.8 464.0 L668.8 465.0 L670.8 466.1 L672.8 467.1 L674.8 468.2 L676.8 469.2 L678.8 470.3 L680.8 471.3 L682.8 472.4 L684.8 473.4 L686.8 474.4 L688.8 475.5 L690.8 476.5 L692.8 477.5 L694.8 478.5 L696.8 479.5 L698.8 480.6 L700.8 481.6 L702.8 482.6 L704.8 483.6 L706.8 484.6 L708.8 485.6 L710.8 486.6 L712.8 487.6 L714.8 488.5 L716.8 489.5 L718.8 490.5 L720.8 491.5 L722.8 492.5 L724.8 493.5" stroke="#ffa500" stroke-dasharray="3.00 6.90" stroke-dashoffset="0.52"/>
<path d="M226.0 167.7 L228.0 169.4 L230.0 171.1 L232.0 172.8 L234.0 174.4 L236.0 176.1 L238.0 177.6 L240.0 179.2 L242.0 180.8 L244.0 182.3 L246.0 183.9 L248.0 185.4 L250.0 186.9 L252.0 188.4 L254.0 189.9 L256.0 191.3 L258.0 192.7 L260.0 194.2 L262.0 195.6 L264.0 197.0 L266.0 198.4 L268.0 199.7 L270.0 201.1 L272.0 202.4 L274.0 203.7 L276.0 205.0 L278.0 206.3 L280.0 207.6 L282.0 208.9 L284.0 210.2 L286.0 211.5 L288.0 212.8 L290.0 214.1 L292.0 215.4 L294.0 216.8 L296.0 218.1 L298.0 219.5 L300.0 220.8 L302.0 222.1 L304.0 223.4 L306.0 224.9 L308.0 226.4 L310.0 227.9 L312.0 229.5 L314.0 231.2 L316.0 232.9 L318.0 234.0 L320.0 236.9 L322.0 238.7 L324.0 240.5 L326.0 242.2 L328.0 243.8 L330.0 245.5 L332.0 247.0 L334.0 248.4 L336.0 249.9 L338.0 251.4 L340.0 252.8 L342.0 254.3 L344.0 255.7 L346.0 257.1 L348.0 258.6 L350.0 260.0 L352.0 261.4" stroke="#000"/>
<path d="M221.6 58.5 L223.6 60.5 L225.6 62.6 L227.6 64.7 L229.6 66.8 L231.6 68.8 L233.6 70.9 L235.6 73.0 L237.6 75.0 L239.6 77.1 L241.6 79.2 L243.6 81.2 L245.6 83.3 L247.6 85.4 L249.6 87.5 L251.6 89.5 L253.6 91.6 L255.6 93.7 L257.6 95.8 L259.6 97.8 L261.6 99.9 L263.6 102.0 L265.6 104.1 L267.6 106.2 L269.6 108.2 L271.6 110.3 L273.6 112.4 L275.6 114.5 L277.6 116.6 L279.6 118.6 L281.6 120.7 L283.6 122.8 L285.6 124.9 L287.6 127.0 L289.6 129.0 L291.6 131.1 L293.6 133.2 L295.6 135.3 L297.6 137.4 L299.6 139.4 L301.6 141.5 L303.6 143.6 L305.6 145.7 L307.6 147.7 L309.6 149.8 L311.6 151.9 L313.6 154.0 L315.6 156.0 L317.6 158.1 L319.6 160.2 L321.6 162.2 L323.6 164.3 L325.6 166.4 L327.6 168.4 L329.6 170.5 L331.6 172.6 L333.6 174.6 L335.6 176.7 L337.6 178.7 L339.6 180.8 L341.6 182.8 L343.6 184.9 L345.6 186.9 L347.6 189.0 L349.6 191.0 L351.6 193.1 L353.6 195.1 L355.6 197.2 L357.6 199.2 L359.6 201.2 L361.6 203.3 L363.6 205.3 L365.6 207.3 L367.6 209.3 L369.6 211.4 L371.6 213.4 L373.6 215.4 L375.6 217.4 L377.6 219.4 L379.6 221.4 L381.6 223.4 L383.6 225.4 L385.6 227.4 L387.6 229.4 L389.6 231.4 L391.6 233.4 L393.6 235.3 L395.6 237.3 L397.6 239.3 L399.6 241.3 L401.6 243.2 L403.6 245.2 L405.6 247.1 L407.6 249.1 L409.6 251.0 L411.6 253.0 L413.6 254.9 L415.6 256.8 L417.6 258.8 L419.6 260.7 L421.6 262.6 L423.6 264.5 L425.6 266.4 L427.6 268.3 L429.6 270.2 L431.6 272.1 L433.6 274.0 L435.6 275.9 L437.6 277.8 L439.6 279.7 L441.6 281.5 L443.6 283.4 L445.6 285.2 L447.6 287.1 L449.6 288.9 L451.6 290.8 L453.6 292.6 L455.6 294.4 L457.6 296.2 L459.6 298.1 L461.6 299.9 L463.6 301.7 L465.6 303.5 L467.6 305.3 L469.6 307.0 L471.6 308.8 L473.6 310.6 L475.6 312.3 L477.6 314.1 L479.6 315.9 L481.6 317.6 L483.6 319.3 L485.6 321.1 L487.6 322.8 L489.6 324.5 L491.6 326.2 L493.6 327.9 L495.6 329.6 L497.6 331.3 L499.6 333.0 L501.6 334.7 L503.6 336.3 L505.6 338.0 L507.6 339.6 L509.6 341.3 L511.6 342.9 L513.6 344.6 L515.6 346.2 L517.6 347.8 L519.6 349.4 L521.6 351.0 L523.6 352.6 L525.6 354.2 L527.6 355.8 L529.6 357.4 L531.6 358.9 L533.6 360.5 L535.6 362.0 L537.6 363.6 L539.6 365.1 L541.6 366.6 L543.6 368.2 L545.6 369.7 L547.6 371.2 L549.6 372.7 L551.6 374.2 L553.6 375.7 L555.6 377.1 L557.6 378.6 L559.6 380.1 L561.6 381.5 L563.6 383.0 L565.6 384.4 L567.6 385.8 L569.6 387.3 L571.6 388.7 L573.6 390.1 L575.6 391.5 L577.6 392.9 L579.6 394.3 L581.6 395.7 L583.6 397.0 L585.6 398.4 L587.6 399.8 L589.6 401.1 L591.6 402.5 L593.6 403.8 L595.6 405.1 L597.6 406.4 L599.6 407.8 L601.6 409.1 L603.6 410.4 L605.6 411.7 L607.6 413.0 L609.6 414.3 L611.6 415.5 L613.6 416.8 L615.6 418.1 L617.6 419.3 L619.6 420.6 L621.6 421.8 L623.6 423.1 L625.6 424.3 L627.6 425.5 L629.6 426.8 L631.6 428.0 L633.6 429.2 L635.6 430.4 L637.6 431.6 L639.6 432.8 L641.6 434.0 L643.6 435.2 L645.6 436.4 L647.6 437.5 L649.6 438.7 L651.6 439.9 L653.6 441.0 L655.6 442.2 L657.6 443.3 L659.6 444.5 L661.6 445.6 L663.6 446.8 L665.6 447.9 L667.6 449.1 L669.6 450.2 L671.6 451.3 L673.6 452.4 L675.6 453.6 L677.6 454.7 L679.6 455.8 L681.6 456.9 L683.6 458.0 L685.6 459.1 L687.6 460.3 L689.6 461.4 L691.6 462.5 L693.6 463.6 L695.6 464.7 L697.6 465.8 L699.6 466.9 L701.6 468.0 L703.6 469.1 L705.6 470.2 L707.6 471.3 L709.6 472.4 L711.6 473.5 L713.6 474.6 L715.6 475.7 L717.6 476.8 L719.6 477.9 L721.6 479.0 L723.6 480.1 L725.6 481.2 L727.6 482.4 L729.6 483.5 L731.6 484.6 L733.6 485.7 L735.6 486.8 L737.6 488.0 L739.6 489.1 L741.6 490.2 L743.6 491.3 L745.6 492.5 L747.6 493.6 L749.6 494.7" stroke="#8b008b"/>
<path d="M206.7 59.5 L208.7 61.6 L210.7 63.7 L212.7 65.7 L214.7 67.8 L216.7 69.9 L218.7 71.9 L220.7 74.0 L222.7 76.1 L224.7 78.1 L226.7 80.2 L228.7 82.3 L230.7 84.3 L232.7 86.4 L234.7 88.5 L236.7 90.6 L238.7 92.6 L240.7 94.7 L242.7 96.8 L244.7 98.8 L246.7 100.9 L248.7 103.0 L250.7 105.1 L252.7 107.1 L254.7 109.2 L256.7 111.3 L258.7 113.3 L260.7 115.4 L262.7 117.5 L264.7 119.6 L266.7 121.6 L268.7 123.7 L270.7 125.8 L272.7 127.9 L274.7 129.9 L276.7 132.0 L278.7 134.1 L280.7 136.1 L282.7 138.2 L284.7 140.3 L286.7 142.4 L288.7 144.4 L290.7 146.5 L292.7 148.6 L294.7 150.6 L296.7 152.7 L298.7 154.8 L300.7 156.8 L302.7 158.9 L304.7 161.0 L306.7 163.0 L308.7 165.1 L310.7 167.2 L312.7 169.2 L314.7 171.3 L316.7 173.3 L318.7 175.4 L320.7 177.5 L322.7 179.5 L324.7 181.6 L326.7 183.6 L328.7 185.7 L330.7 187.7 L332.7 189.8 L334.7 191.8 L336.7 193.9 L338.7 195.9 L340.7 198.0 L342.7 200.0 L344.7 202.0 L346.7 204.1 L348.7 206.1 L350.7 208.1 L352.7 210.2 L354.7 212.2 L356.7 214.2 L358.7 216.2 L360.7 218.3 L362.7 220.3 L364.7 222.3 L366.7 224.3 L368.7 226.3 L370.7 228.3 L372.7 230.3 L374.7 232.3 L376.7 234.3 L378.7 236.3 L380.7 238.3 L382.7 240.3 L384.7 242.3 L386.7 244.3 L388.7 246.3 L390.7 248.3 L392.7 250.2 L394.7 252.2 L396.7 254.2 L398.7 256.1 L400.7 258.1 L402.7 260.0 L404.7 262.0 L406.7 263.9 L408.7 265.9 L410.7 267.8 L412.7 269.8 L414.7 271.7 L416.7 273.6 L418.7 275.5 L420.7 277.4 L422.7 279.4 L424.7 281.3 L426.7 283.2 L428.7 285.1 L430.7 287.0 L432.7 288.9 L434.7 290.7 L436.7 292.6 L438.7 294.5 L440.7 296.4 L442.7 298.2 L444.7 300.1 L446.7 301.9 L448.7 303.8 L450.7 305.6 L452.7 307.5 L454.7 309.3 L456.7 311.1 L458.7 312.9 L460.7 314.7 L462.7 316.6 L464.7 318.4 L466.7 320.2 L468.7 321.9 L470.7 323.7 L472.7 325.5 L474.7 327.3 L476.7 329.0 L478.7 330.8 L480.7 332.6 L482.7 334.3 L484.7 336.1 L486.7 337.8 L488.7 339.5 L490.7 341.2 L492.7 343.0 L494.7 344.7 L496.7 346.4 L498.7 348.1 L500.7 349.7 L502.7 351.4 L504.7 353.1 L506.7 354.8 L508.7 356.4 L510.7 358.1 L512.7 359.7 L514.7 361.4 L516.7 363.0 L518.7 364.6 L520.7 366.3 L522.7 367.9 L524.7 369.5 L526.7 371.1 L528.7 372.7 L530.7 374.3 L532.7 375.8 L534.7 377.4 L536.7 379.0 L538.7 380.5 L540.7 382.1 L542.7 383.6 L544.7 385.1 L546.7 386.7 L548.7 388.2 L550.7 389.7 L552.7 391.2 L554.7 392.7 L556.7 394.2 L558.7 395.7 L560.7 397.2 L562.7 398.6 L564.7 400.1 L566.7 401.5 L568.7 403.0 L570.7 404.4 L572.7 405.9 L574.7 407.3 L576.7 408.7 L578.7 410.1 L580.7 411.5 L582.7 412.9 L584.7 414.3 L586.7 415.7 L588.7 417.1 L590.7 418.4 L592.7 419.8 L594.7 421.2 L596.7 422.5 L598.7 423.9 L600.7 425.2 L602.7 426.5 L604.7 427.8 L606.7 429.2 L608.7 430.5 L610.7 431.8 L612.7 433.1 L614.7 434.4 L616.7 435.6 L618.7 436.9 L620.7 438.2 L622.7 439.5 L624.7 440.7 L626.7 442.0 L628.7 443.2 L630.7 444.5 L632.7 445.7 L634.7 446.9 L636.7 448.1 L638.7 449.4 L640.7 450.6 L642.7 451.8 L644.7 453.0 L646.7 454.2 L648.7 455.4 L650.7 456.6 L652.7 457.8 L654.7 458.9 L656.7 460.1 L658.7 461.3 L660.7 462.4 L662.7 463.6 L664.7 464.8 L666.7 465.9 L668.7 467.1 L670.7 468.2 L672.7 469.4 L674.7 470.5 L676.7 471.6 L678.7 472.8 L680.7 473.9 L682.7 475.0 L684.7 476.1 L686.7 477.3 L688.7 478.4 L690.7 479.5 L692.7 480.6 L694.7 481.7 L696.7 482.8 L698.7 484.0 L700.7 485.1 L702.7 486.2 L704.7 487.3 L706.7 488.4 L708.7 489.5 L710.7 490.6 L712.7 491.7 L714.7 492.8" stroke="#8b008b" stroke-dasharray="10.30 5.54" stroke-dashoffset="13.94"/>
<path d="M188.3 59.7 L190.3 61.8 L192.3 63.9 L194.3 66.0 L196.3 68.2 L198.3 70.3 L200.3 72.4 L202.3 74.5 L204.3 76.7 L206.3 78.8 L208.3 80.9 L210.3 83.0 L212.3 85.1 L214.3 87.3 L216.3 89.4 L218.3 91.5 L220.3 93.6 L222.3 95.7 L224.3 97.8 L226.3 99.9 L228.3 102.0 L230.3 104.1 L232.3 106.2 L234.3 108.3 L236.3 110.4 L238.3 112.5 L240.3 114.6 L242.3 116.7 L244.3 118.8 L246.3 120.9 L248.3 123.0 L250.3 125.1 L252.3 127.2 L254.3 129.3 L256.3 131.4 L258.3 133.5 L260.3 135.6 L262.3 137.7 L264.3 139.7 L266.3 141.8 L268.3 143.9 L270.3 146.0 L272.3 148.1 L274.3 150.2 L276.3 152.3 L278.3 154.4 L280.3 156.4 L282.3 158.5 L284.3 160.6 L286.3 162.7 L288.3 164.8 L290.3 166.9 L292.3 168.9 L294.3 171.0 L296.3 173.1 L298.3 175.2 L300.3 177.2 L302.3 179.3 L304.3 181.4 L306.3 183.5 L308.3 185.5 L310.3 187.6 L312.3 189.7 L314.3 191.7 L316.3 193.8 L318.3 195.9 L320.3 197.9 L322.3 200.0 L324.3 202.1 L326.3 204.1 L328.3 206.2 L330.3 208.3 L332.3 210.3 L334.3 212.4 L336.3 214.4 L338.3 216.5 L340.3 218.5 L342.3 220.6 L344.3 222.6 L346.3 224.7 L348.3 226.7 L350.3 228.7 L352.3 230.8 L354.3 232.8 L356.3 234.9 L358.3 236.9 L360.3 238.9 L362.3 240.9 L364.3 243.0 L366.3 245.0 L368.3 247.0 L370.3 249.0 L372.3 251.0 L374.3 253.1 L376.3 255.1 L378.3 257.1 L380.3 259.1 L382.3 261.1 L384.3 263.1 L386.3 265.1 L388.3 267.1 L390.3 269.0 L392.3 271.0 L394.3 273.0 L396.3 275.0 L398.3 276.9 L400.3 278.9 L402.3 280.9 L404.3 282.8 L406.3 284.8 L408.3 286.7 L410.3 288.7 L412.3 290.6 L414.3 292.6 L416.3 294.5 L418.3 296.4 L420.3 298.4 L422.3 300.3 L424.3 302.2 L426.3 304.1 L428.3 306.0 L430.3 307.9 L432.3 309.8 L434.3 311.7 L436.3 313.6 L438.3 315.5 L440.3 317.4 L442.3 319.2 L444.3 321.1 L446.3 323.0 L448.3 324.8 L450.3 326.7 L452.3 328.5 L454.3 330.4 L456.3 332.2 L458.3 334.0 L460.3 335.8 L462.3 337.6 L464.3 339.5 L466.3 341.3 L468.3 343.1 L470.3 344.8 L472.3 346.6 L474.3 348.4 L476.3 350.2 L478.3 351.9 L480.3 353.7 L482.3 355.4 L484.3 357.2 L486.3 358.9 L488.3 360.7 L490.3 362.4 L492.3 364.1 L494.3 365.8 L496.3 367.5 L498.3 369.2 L500.3 370.9 L502.3 372.6 L504.3 374.3 L506.3 375.9 L508.3 377.6 L510.3 379.2 L512.3 380.9 L514.3 382.5 L516.3 384.2 L518.3 385.8 L520.3 387.4 L522.3 389.0 L524.3 390.6 L526.3 392.2 L528.3 393.8 L530.3 395.4 L532.3 396.9 L534.3 398.5 L536.3 400.1 L538.3 401.6 L540.3 403.2 L542.3 404.7 L544.3 406.2 L546.3 407.7 L548.3 409.2 L550.3 410.7 L552.3 412.2 L554.3 413.7 L556.3 415.2 L558.3 416.7 L560.3 418.2 L562.3 419.6 L564.3 421.1 L566.3 422.5 L568.3 423.9 L570.3 425.4 L572.3 426.8 L574.3 428.2 L576.3 429.6 L578.3 431.0 L580.3 432.4 L582.3 433.8 L584.3 435.2 L586.3 436.5 L588.3 437.9 L590.3 439.2 L592.3 440.6 L594.3 441.9 L596.3 443.3 L598.3 444.6 L600.3 445.9 L602.3 447.2 L604.3 448.5 L606.3 449.8 L608.3 451.1 L610.3 452.4 L612.3 453.7 L614.3 455.0 L616.3 456.3 L618.3 457.5 L620.3 458.8 L622.3 460.0 L624.3 461.3 L626.3 462.5 L628.3 463.8 L630.3 465.0 L632.3 466.2 L634.3 467.4 L636.3 468.6 L638.3 469.8 L640.3 471.1 L642.3 472.3 L644.3 473.4 L646.3 474.6 L648.3 475.8 L650.3 477.0 L652.3 478.2 L654.3 479.4 L656.3 480.5 L658.3 481.7 L660.3 482.9 L662.3 484.0 L664.3 485.2 L666.3 486.3 L668.3 487.5 L670.3 488.7 L672.3 489.8 L674.3 491.0 L676.3 492.1 L678.3 493.3 L680.3 494.4" stroke="#8b008b" stroke-dasharray="3.00 6.90" stroke-dashoffset="0.56"/>
<path d="M316.3 58.2 L318.3 60.3 L320.3 62.5 L322.3 64.6 L324.3 66.7 L326.3 68.8 L328.3 70.9 L330.3 73.0 L332.3 75.2 L334.3 77.3 L336.3 79.4 L338.3 81.5 L340.3 83.6 L342.3 85.7 L344.3 87.8 L346.3 89.9 L348.3 92.0 L350.3 94.1 L352.3 96.2 L354.3 98.3 L356.3 100.4 L358.3 102.5 L360.3 104.6 L362.3 106.7 L364.3 108.8 L366.3 110.9 L368.3 113.0 L370.3 115.1 L372.3 117.2 L374.3 119.3 L376.3 121.4 L378.3 123.5 L380.3 125.5 L382.3 127.6 L384.3 129.7 L386.3 131.8 L388.3 133.9 L390.3 136.0 L392.3 138.1 L394.3 140.2 L396.3 142.2 L398.3 144.3 L400.3 146.4 L402.3 148.5 L404.3 150.6 L406.3 152.6 L408.3 154.7 L410.3 156.8 L412.3 158.9 L414.3 161.0 L416.3 163.0 L418.3 165.1 L420.3 167.2 L422.3 169.3 L424.3 171.3 L426.3 173.4 L428.3 175.5 L430.3 177.5 L432.3 179.6 L434.3 181.7 L436.3 183.7 L438.3 185.8 L440.3 187.9 L442.3 189.9 L444.3 192.0 L446.3 194.1 L448.3 196.1 L450.3 198.2 L452.3 200.2 L454.3 202.3 L456.3 204.3 L458.3 206.4 L460.3 208.4 L462.3 210.5 L464.3 212.5 L466.3 214.5 L468.3 216.6 L470.3 218.6 L472.3 220.6 L474.3 222.7 L476.3 224.7 L478.3 226.7 L480.3 228.7 L482.3 230.8 L484.3 232.8 L486.3 234.8 L488.3 236.8 L490.3 238.8 L492.3 240.8 L494.3 242.8 L496.3 244.8 L498.3 246.8 L500.3 248.8 L502.3 250.8 L504.3 252.8 L506.3 254.8 L508.3 256.7 L510.3 258.7 L512.3 260.7 L514.3 262.6 L516.3 264.6 L518.3 266.6 L520.3 268.5 L522.3 270.5 L524.3 272.4 L526.3 274.3 L528.3 276.3 L530.3 278.2 L532.3 280.1 L534.3 282.0 L536.3 284.0 L538.3 285.9 L540.3 287.8 L542.3 289.7 L544.3 291.6 L546.3 293.5 L548.3 295.3 L550.3 297.2 L552.3 299.1 L554.3 301.0 L556.3 302.8 L558.3 304.7 L560.3 306.5 L562.3 308.4 L564.3 310.2 L566.3 312.0 L568.3 313.9 L570.3 315.7 L572.3 317.5 L574.3 319.3 L576.3 321.1 L578.3 322.9 L580.3 324.7 L582.3 326.4 L584.3 328.2 L586.3 330.0 L588.3 331.7 L590.3 333.5 L592.3 335.2 L594.3 337.0 L596.3 338.7 L598.3 340.4 L600.3 342.1 L602.3 343.9 L604.3 345.6 L606.3 347.3 L608.3 348.9 L610.3 350.6 L612.3 352.3 L614.3 354.0 L616.3 355.6 L618.3 357.3 L620.3 358.9 L622.3 360.5 L624.3 362.2 L626.3 363.8 L628.3 365.4 L630.3 367.0 L632.3 368.6 L634.3 370.2 L636.3 371.7 L638.3 373.3 L640.3 374.9 L642.3 376.4 L644.3 378.0 L646.3 379.5 L648.3 381.1 L650.3 382.6 L652.3 384.1 L654.3 385.6 L656.3 387.1 L658.3 388.6 L660.3 390.1 L662.3 391.5 L664.3 393.0 L666.3 394.5 L668.3 395.9 L670.3 397.4 L672.3 398.8 L674.3 400.2 L676.3 401.6 L678.3 403.0 L680.3 404.4 L682.3 405.8 L684.3 407.2 L686.3 408.6 L688.3 410.0 L690.3 411.3 L692.3 412.7 L694.3 414.0 L696.3 415.4 L698.3 416.7 L700.3 418.0 L702.3 419.4 L704.3 420.7 L706.3 422.0 L708.3 423.3 L710.3 424.6 L712.3 425.8 L714.3 427.1 L716.3 428.4 L718.3 429.6 L720.3 430.9 L722.3 432.1 L724.3 433.4 L726.3 434.6 L728.3 435.8 L730.3 437.1 L732.3 438.3 L734.3 439.5 L736.3 440.7 L738.3 441.9 L740.3 443.1 L742.3 444.3 L744.3 445.5 L746.3 446.7 L748.3 447.9 L750.3 449.0 L752.3 450.2 L754.3 451.4 L756.3 452.6" stroke="#006400"/>
<path d="M300.7 57.7 L302.7 59.8 L304.7 62.0 L306.7 64.2 L308.7 66.3 L310.7 68.5 L312.7 70.7 L314.7 72.8 L316.7 75.0 L318.7 77.1 L320.7 79.3 L322.7 81.5 L324.7 83.6 L326.7 85.7 L328.7 87.9 L330.7 90.0 L332.7 92.1 L334.7 94.3 L336.7 96.4 L338.7 98.5 L340.7 100.6 L342.7 102.7 L344.7 104.9 L346.7 107.0 L348.7 109.1 L350.7 111.2 L352.7 113.3 L354.7 115.4 L356.7 117.5 L358.7 119.6 L360.7 121.7 L362.7 123.7 L364.7 125.8 L366.7 127.9 L368.7 130.0 L370.7 132.1 L372.7 134.2 L374.7 136.3 L376.7 138.3 L378.7 140.4 L380.7 142.5 L382.7 144.6 L384.7 146.7 L386.7 148.7 L388.7 150.8 L390.7 152.9 L392.7 155.0 L394.7 157.0 L396.7 159.1 L398.7 161.2 L400.7 163.2 L402.7 165.3 L404.7 167.4 L406.7 169.5 L408.7 171.5 L410.7 173.6 L412.7 175.7 L414.7 177.7 L416.7 179.8 L418.7 181.9 L420.7 183.9 L422.7 186.0 L424.7 188.0 L426.7 190.1 L428.7 192.2 L430.7 194.2 L432.7 196.3 L434.7 198.3 L436.7 200.4 L438.7 202.5 L440.7 204.5 L442.7 206.6 L444.7 208.6 L446.7 210.7 L448.7 212.7 L450.7 214.8 L452.7 216.8 L454.7 218.9 L456.7 220.9 L458.7 222.9 L460.7 225.0 L462.7 227.0 L464.7 229.1 L466.7 231.1 L468.7 233.1 L470.7 235.2 L472.7 237.2 L474.7 239.2 L476.7 241.2 L478.7 243.3 L480.7 245.3 L482.7 247.3 L484.7 249.3 L486.7 251.3 L488.7 253.3 L490.7 255.4 L492.7 257.4 L494.7 259.4 L496.7 261.4 L498.7 263.3 L500.7 265.3 L502.7 267.3 L504.7 269.3 L506.7 271.3 L508.7 273.3 L510.7 275.2 L512.7 277.2 L514.7 279.2 L516.7 281.1 L518.7 283.1 L520.7 285.0 L522.7 287.0 L524.7 288.9 L526.7 290.9 L528.7 292.8 L530.7 294.7 L532.7 296.6 L534.7 298.6 L536.7 300.5 L538.7 302.4 L540.7 304.3 L542.7 306.2 L544.7 308.1 L546.7 309.9 L548.7 311.8 L550.7 313.7 L552.7 315.6 L554.7 317.4 L556.7 319.3 L558.7 321.1 L560.7 323.0 L562.7 324.8 L564.7 326.6 L566.7 328.5 L568.7 330.3 L570.7 332.1 L572.7 333.9 L574.7 335.7 L576.7 337.5 L578.7 339.3 L580.7 341.1 L582.7 342.8 L584.7 344.6 L586.7 346.3 L588.7 348.1 L590.7 349.8 L592.7 351.6 L594.7 353.3 L596.7 355.0 L598.7 356.7 L600.7 358.4 L602.7 360.1 L604.7 361.8 L606.7 363.5 L608.7 365.1 L610.7 366.8 L612.7 368.5 L614.7 370.1 L616.7 371.8 L618.7 373.4 L620.7 375.0 L622.7 376.6 L624.7 378.2 L626.7 379.8 L628.7 381.4 L630.7 383.0 L632.7 384.6 L634.7 386.2 L636.7 387.7 L638.7 389.3 L640.7 390.8 L642.7 392.4 L644.7 393.9 L646.7 395.4 L648.7 396.9 L650.7 398.4 L652.7 399.9 L654.7 401.4 L656.7 402.9 L658.7 404.4 L660.7 405.9 L662.7 407.3 L664.7 408.8 L666.7 410.2 L668.7 411.7 L670.7 413.1 L672.7 414.5 L674.7 415.9 L676.7 417.3 L678.7 418.8 L680.7 420.1 L682.7 421.5 L684.7 422.9 L686.7 424.3 L688.7 425.7 L690.7 427.0 L692.7 428.4 L694.7 429.8 L696.7 431.1 L698.7 432.5 L700.7 433.8 L702.7 435.1 L704.7 436.5 L706.7 437.8 L708.7 439.1 L710.7 440.4 L712.7 441.7 L714.7 443.0 L716.7 444.3 L718.7 445.6 L720.7 446.9 L722.7 448.2 L724.7 449.5 L726.7 450.8 L728.7 452.1 L730.7 453.4 L732.7 454.7 L734.7 456.0 L736.7 457.2 L738.7 458.5 L740.7 459.8 L742.7 461.1 L744.7 462.4 L746.7 463.6 L748.7 464.9 L750.7 466.2" stroke="#006400" stroke-dasharray="10.30 5.54" stroke-dashoffset="13.05"/>
<path d="M282.7 60.4 L284.7 62.5 L286.7 64.7 L288.7 66.8 L290.7 68.9 L292.7 71.0 L294.7 73.1 L296.7 75.2 L298.7 77.3 L300.7 79.4 L302.7 81.5 L304.7 83.6 L306.7 85.7 L308.7 87.8 L310.7 89.9 L312.7 92.0 L314.7 94.1 L316.7 96.2 L318.7 98.3 L320.7 100.4 L322.7 102.5 L324.7 104.6 L326.7 106.7 L328.7 108.8 L330.7 110.9 L332.7 112.9 L334.7 115.0 L336.7 117.1 L338.7 119.2 L340.7 121.3 L342.7 123.4 L344.7 125.5 L346.7 127.6 L348.7 129.7 L350.7 131.8 L352.7 133.9 L354.7 136.0 L356.7 138.1 L358.7 140.2 L360.7 142.2 L362.7 144.3 L364.7 146.4 L366.7 148.5 L368.7 150.6 L370.7 152.7 L372.7 154.8 L374.7 156.9 L376.7 159.0 L378.7 161.1 L380.7 163.2 L382.7 165.2 L384.7 167.3 L386.7 169.4 L388.7 171.5 L390.7 173.6 L392.7 175.7 L394.7 177.8 L396.7 179.9 L398.7 181.9 L400.7 184.0 L402.7 186.1 L404.7 188.2 L406.7 190.3 L408.7 192.4 L410.7 194.4 L412.7 196.5 L414.7 198.6 L416.7 200.7 L418.7 202.8 L420.7 204.8 L422.7 206.9 L424.7 209.0 L426.7 211.1 L428.7 213.1 L430.7 215.2 L432.7 217.3 L434.7 219.3 L436.7 221.4 L438.7 223.5 L440.7 225.5 L442.7 227.6 L444.7 229.6 L446.7 231.7 L448.7 233.8 L450.7 235.8 L452.7 237.9 L454.7 239.9 L456.7 242.0 L458.7 244.0 L460.7 246.0 L462.7 248.1 L464.7 250.1 L466.7 252.2 L468.7 254.2 L470.7 256.2 L472.7 258.3 L474.7 260.3 L476.7 262.3 L478.7 264.3 L480.7 266.3 L482.7 268.3 L484.7 270.4 L486.7 272.4 L488.7 274.4 L490.7 276.4 L492.7 278.4 L494.7 280.4 L496.7 282.3 L498.7 284.3 L500.7 286.3 L502.7 288.3 L504.7 290.3 L506.7 292.2 L508.7 294.2 L510.7 296.2 L512.7 298.1 L514.7 300.1 L516.7 302.0 L518.7 304.0 L520.7 305.9 L522.7 307.9 L524.7 309.8 L526.7 311.7 L528.7 313.6 L530.7 315.6 L532.7 317.5 L534.7 319.4 L536.7 321.3 L538.7 323.2 L540.7 325.1 L542.7 327.0 L544.7 328.8 L546.7 330.7 L548.7 332.6 L550.7 334.5 L552.7 336.3 L554.7 338.2 L556.7 340.0 L558.7 341.9 L560.7 343.7 L562.7 345.5 L564.7 347.4 L566.7 349.2 L568.7 351.0 L570.7 352.8 L572.7 354.6 L574.7 356.4 L576.7 358.2 L578.7 360.0 L580.7 361.8 L582.7 363.5 L584.7 365.3 L586.7 367.0 L588.7 368.8 L590.7 370.5 L592.7 372.3 L594.7 374.0 L596.7 375.7 L598.7 377.4 L600.7 379.1 L602.7 380.8 L604.7 382.5 L606.7 384.2 L608.7 385.9 L610.7 387.6 L612.7 389.2 L614.7 390.9 L616.7 392.6 L618.7 394.2 L620.7 395.8 L622.7 397.5 L624.7 399.1 L626.7 400.7 L628.7 402.3 L630.7 403.9 L632.7 405.5 L634.7 407.1 L636.7 408.7 L638.7 410.2 L640.7 411.8 L642.7 413.4 L644.7 414.9 L646.7 416.4 L648.7 418.0 L650.7 419.5 L652.7 421.0 L654.7 422.5 L656.7 424.0 L658.7 425.5 L660.7 427.0 L662.7 428.5 L664.7 430.0 L666.7 431.4 L668.7 432.9 L670.7 434.3 L672.7 435.8 L674.7 437.2 L676.7 438.6 L678.7 440.0 L680.7 441.5 L682.7 442.9 L684.7 444.3 L686.7 445.7 L688.7 447.0 L690.7 448.4 L692.7 449.8 L694.7 451.1 L696.7 452.5 L698.7 453.8 L700.7 455.2 L702.7 456.5 L704.7 457.8 L706.7 459.2 L708.7 460.5 L710.7 461.8 L712.7 463.1 L714.7 464.4 L716.7 465.7 L718.7 466.9 L720.7 468.2 L722.7 469.5 L724.7 470.7 L726.7 472.0 L728.7 473.3 L730.7 474.5 L732.7 475.7 L734.7 477.0 L736.7 478.2 L738.7 479.4 L740.7 480.6 L742.7 481.8 L744.7 483.1 L746.7 484.3 L748.7 485.5 L750.7 486.7 L752.7 487.9 L754.7 489.1" stroke="#006400" stroke-dasharray="3.00 6.90" stroke-dashoffset="1.02"/>
</g>
<text x="248.54" y="24.8" font-size="25.6" textLength="46.01" lengthAdjust="spacingAndGlyphs" class="t">line</text>
<text x="305.40" y="24.8" font-size="25.6" textLength="47.10" lengthAdjust="spacingAndGlyphs" class="t">flux</text>
<path class="t" d="M366.5 5.0 H371.2 V6.1 H368.9 V30.7 H371.2 V31.8 H366.5 Z"/>
<text x="371.70" y="24.8" font-size="25.6" textLength="101.02" lengthAdjust="spacingAndGlyphs" class="t">photons</text>
<text x="478.52" y="24.8" font-size="25.6" textLength="11.91" lengthAdjust="spacingAndGlyphs" class="t">s</text>
<rect x="491.8" y="9.95" width="14.7" height="1.3" class="t"/>
<text x="506.57" y="14.8" font-size="17.8" textLength="11.07" lengthAdjust="spacingAndGlyphs" class="t">1</text>
<text x="523.07" y="24.8" font-size="25.6" textLength="37.87" lengthAdjust="spacingAndGlyphs" class="t">cm</text>
<rect x="563.1" y="9.95" width="14.5" height="1.3" class="t"/>
<text x="578.66" y="14.8" font-size="17.8" textLength="10.29" lengthAdjust="spacingAndGlyphs" class="t">2</text>
<path class="t" d="M595.0 5.0 H590.3 V6.1 H592.6 V30.7 H590.3 V31.8 H595.0 Z"/>
<text x="321.26" y="545.2" font-size="25.6" textLength="105.61" lengthAdjust="spacingAndGlyphs" class="t">distance</text>
<path class="t" d="M438.9 524.4 H444.1 V525.5 H441.3 V550.4 H444.1 V551.5 H438.9 Z"/>
<text x="446.34" y="545.2" font-size="25.6" textLength="57.00" lengthAdjust="spacingAndGlyphs" class="t">Mpc</text>
<path class="t" d="M508.4 524.4 H503.3 V525.5 H506.0 V550.4 H503.3 V551.5 H508.4 Z"/>
<g transform="translate(21.6 356.4) rotate(-90)"><text x="-0.94" y="0.0" font-size="25.6" textLength="114.80" lengthAdjust="spacingAndGlyphs" class="t">exposure</text><path class="t" d="M127.2 -20.2 H132.2 V-19.1 H129.6 V6.5 H132.2 V7.6 H127.2 Z"/><text x="133.21" y="0.0" font-size="25.6" textLength="9.75" lengthAdjust="spacingAndGlyphs" class="t">s</text><path class="t" d="M149.5 -20.2 H144.6 V-19.1 H147.1 V6.5 H144.6 V7.6 H149.5 Z"/></g>
<text x="140.09" y="64.0" font-size="26.6" textLength="29.53" lengthAdjust="spacingAndGlyphs" class="t">10</text>
<rect x="171.1" y="48.95" width="13.7" height="1.3" class="t"/>
<text x="186.51" y="54.8" font-size="17.8" textLength="10.97" lengthAdjust="spacingAndGlyphs" class="t">8</text>
<text x="297.39" y="64.0" font-size="26.6" textLength="29.53" lengthAdjust="spacingAndGlyphs" class="t">10</text>
<rect x="328.4" y="48.95" width="13.7" height="1.3" class="t"/>
<text x="343.47" y="54.8" font-size="17.8" textLength="10.97" lengthAdjust="spacingAndGlyphs" class="t">7</text>
<text x="454.29" y="64.0" font-size="26.6" textLength="29.53" lengthAdjust="spacingAndGlyphs" class="t">10</text>
<rect x="485.3" y="48.95" width="13.7" height="1.3" class="t"/>
<text x="500.74" y="54.8" font-size="17.8" textLength="10.59" lengthAdjust="spacingAndGlyphs" class="t">6</text>
<text x="612.09" y="64.0" font-size="26.6" textLength="29.53" lengthAdjust="spacingAndGlyphs" class="t">10</text>
<rect x="643.1" y="48.95" width="13.7" height="1.3" class="t"/>
<text x="658.51" y="54.8" font-size="17.8" textLength="10.97" lengthAdjust="spacingAndGlyphs" class="t">5</text>
<text x="39.67" y="96.5" font-size="26.6" textLength="29.87" lengthAdjust="spacingAndGlyphs" class="t">10</text>
<text x="69.72" y="87.1" font-size="17.8" textLength="10.86" lengthAdjust="spacingAndGlyphs" class="t">8</text>
<text x="39.67" y="166.3" font-size="26.6" textLength="29.87" lengthAdjust="spacingAndGlyphs" class="t">10</text>
<text x="69.38" y="156.9" font-size="17.8" textLength="10.86" lengthAdjust="spacingAndGlyphs" class="t">7</text>
<text x="39.67" y="249.5" font-size="26.6" textLength="29.87" lengthAdjust="spacingAndGlyphs" class="t">10</text>
<text x="69.74" y="240.1" font-size="17.8" textLength="10.48" lengthAdjust="spacingAndGlyphs" class="t">6</text>
<text x="39.67" y="332.4" font-size="26.6" textLength="29.87" lengthAdjust="spacingAndGlyphs" class="t">10</text>
<text x="69.72" y="323.0" font-size="17.8" textLength="10.86" lengthAdjust="spacingAndGlyphs" class="t">5</text>
<text x="39.67" y="416.3" font-size="26.6" textLength="29.87" lengthAdjust="spacingAndGlyphs" class="t">10</text>
<text x="70.40" y="406.9" font-size="17.8" textLength="9.81" lengthAdjust="spacingAndGlyphs" class="t">4</text>
<text x="39.67" y="486.4" font-size="26.6" textLength="29.87" lengthAdjust="spacingAndGlyphs" class="t">10</text>
<text x="69.72" y="477.0" font-size="17.8" textLength="10.86" lengthAdjust="spacingAndGlyphs" class="t">3</text>
<text x="98.64" y="514.3" font-size="26.6" textLength="30.20" lengthAdjust="spacingAndGlyphs" class="t">10</text>
<text x="202.24" y="514.3" font-size="26.6" textLength="13.83" lengthAdjust="spacingAndGlyphs" class="t">5</text>
<text x="420.68" y="514.3" font-size="26.6" textLength="15.47" lengthAdjust="spacingAndGlyphs" class="t">1</text>
<text x="503.66" y="514.3" font-size="26.6" textLength="37.47" lengthAdjust="spacingAndGlyphs" class="t">0.5</text>
<text x="597.55" y="109.3" font-size="15" textLength="50.43" lengthAdjust="spacingAndGlyphs" fill="#006400" stroke="#006400" stroke-width="0.5" font-style="italic">Astro-H</text>
<path d="M650.2 112.9L656.5 97.1" stroke="#006400" stroke-width="1.9" fill="none"/>
<text x="658.83" y="109.3" font-size="15" textLength="34.02" lengthAdjust="spacingAndGlyphs" fill="#006400" stroke="#006400" stroke-width="0.3">SXS</text>
<text x="596.84" y="130.3" font-size="15" textLength="19.74" lengthAdjust="spacingAndGlyphs" fill="#8b008b" stroke="#8b008b" stroke-width="0.5" font-style="italic">Nu</text>
<text x="615.86" y="130.3" font-size="15" textLength="40.85" lengthAdjust="spacingAndGlyphs" fill="#8b008b" stroke="#8b008b" stroke-width="0.3">STAR</text>
<text x="596.36" y="174.3" font-size="15" textLength="62.46" lengthAdjust="spacingAndGlyphs" fill="#ffa500" stroke="#ffa500" stroke-width="0.5" font-style="italic">eROSITA</text>
<text x="596.12" y="196.2" font-size="15" textLength="56.93" lengthAdjust="spacingAndGlyphs" fill="#00008b" stroke="#00008b" stroke-width="0.5" font-style="italic">Chandra</text>
<path d="M654.3 199.8L661.6 184.0" stroke="#00008b" stroke-width="1.9" fill="none"/>
<text x="664.00" y="196.2" font-size="15" textLength="40.49" lengthAdjust="spacingAndGlyphs" fill="#00008b" stroke="#00008b" stroke-width="0.3">ACIS</text>
<text x="597.58" y="218.2" font-size="15" textLength="46.97" lengthAdjust="spacingAndGlyphs" fill="#008b8b" stroke="#008b8b" stroke-width="0.5" font-style="italic">Athena</text>
<path d="M645.3 221.8L652.2 206.0" stroke="#008b8b" stroke-width="1.9" fill="none"/>
<text x="653.02" y="218.2" font-size="15" textLength="12.94" lengthAdjust="spacingAndGlyphs" fill="#008b8b" stroke="#008b8b" stroke-width="0.3">X</text>
<rect x="672.5" y="213.65" width="10.8" height="1.3" fill="#008b8b"/>
<text x="688.73" y="218.2" font-size="15" textLength="31.31" lengthAdjust="spacingAndGlyphs" fill="#008b8b" stroke="#008b8b" stroke-width="0.3">IFU</text>
</svg>
</body></html>
